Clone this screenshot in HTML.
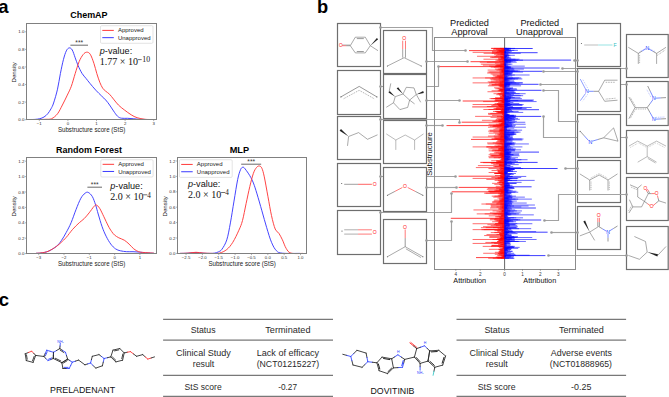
<!DOCTYPE html>
<html><head><meta charset="utf-8"><style>
html,body{margin:0;padding:0;background:#fff;}
body{width:669px;height:397px;overflow:hidden;font-family:"Liberation Sans", sans-serif;}
svg{display:block;}
</style></head><body>
<svg width="669" height="397" viewBox="0 0 669 397">
<rect width="669" height="397" fill="#fff"/>
<text x="-1.8" y="12.7" font-size="18.5" text-anchor="start" font-weight="bold" font-style="normal" fill="#000" font-family='"Liberation Sans", sans-serif' >a</text>
<text x="317" y="12.7" font-size="18.3" text-anchor="start" font-weight="bold" font-style="normal" fill="#000" font-family='"Liberation Sans", sans-serif' >b</text>
<text x="-1.2" y="305.8" font-size="18.5" text-anchor="start" font-weight="bold" font-style="normal" fill="#000" font-family='"Liberation Sans", sans-serif' >c</text>
<path d="M30,119.5 C30.83,119.48 33.37,119.53 35,119.4 C36.63,119.27 38.3,119.1 39.8,118.7 C41.3,118.3 42.68,117.82 44,117 C45.32,116.18 46.53,115.17 47.7,113.8 C48.87,112.43 50.02,110.6 51,108.8 C51.98,107 52.52,106.27 53.6,103 C54.68,99.73 56.37,94.12 57.5,89.2 C58.63,84.28 59.42,78.42 60.4,73.5 C61.38,68.58 62.42,63.47 63.4,59.7 C64.38,55.93 65.33,52.87 66.3,50.9 C67.27,48.93 68.22,48.07 69.2,47.9 C70.18,47.73 71.2,48.25 72.2,49.9 C73.2,51.55 74.22,55.18 75.2,57.8 C76.18,60.42 76.95,62.98 78.1,65.6 C79.25,68.22 80.78,71.37 82.1,73.5 C83.42,75.63 84.7,76.77 86,78.4 C87.3,80.03 88.27,81.33 89.9,83.3 C91.53,85.27 93.83,88.07 95.8,90.2 C97.77,92.33 100.05,94.47 101.7,96.1 C103.35,97.73 104.38,98.52 105.7,100 C107.02,101.48 108.3,103.18 109.6,105 C110.9,106.82 112.18,109.03 113.5,110.9 C114.82,112.77 116.18,114.98 117.5,116.2 C118.82,117.42 119.77,117.85 121.4,118.2 C123.03,118.55 125.33,118.22 127.3,118.3 C129.27,118.38 131.23,118.53 133.2,118.7 C135.17,118.87 136.97,119.17 139.1,119.3 C141.23,119.43 144.85,119.47 146,119.5" stroke="#3a3aff" stroke-width="0.95" fill="none"/>
<path d="M40,119.5 C40.95,119.47 43.77,119.43 45.7,119.3 C47.63,119.17 49.63,119.62 51.6,118.7 C53.57,117.78 55.7,116.08 57.5,113.8 C59.3,111.52 60.77,108.12 62.4,105 C64.03,101.88 65.82,98.22 67.3,95.1 C68.78,91.98 69.98,89.9 71.3,86.3 C72.62,82.7 73.9,77.6 75.2,73.5 C76.5,69.4 77.78,64.85 79.1,61.7 C80.42,58.55 81.85,56.18 83.1,54.6 C84.35,53.02 85.42,52.27 86.6,52.2 C87.78,52.13 88.98,52.35 90.2,54.2 C91.42,56.05 92.8,60.08 93.9,63.3 C95,66.52 95.82,70.33 96.8,73.5 C97.78,76.67 98.82,79.85 99.8,82.3 C100.78,84.75 101.72,86.72 102.7,88.2 C103.68,89.68 104.55,90.18 105.7,91.2 C106.85,92.22 108.3,92.98 109.6,94.3 C110.9,95.62 112.03,97.32 113.5,99.1 C114.97,100.88 116.6,103.2 118.4,105 C120.2,106.8 122.17,108.27 124.3,109.9 C126.43,111.53 129.07,113.5 131.2,114.8 C133.33,116.1 134.8,116.95 137.1,117.7 C139.4,118.45 142.35,119 145,119.3 C147.65,119.6 151.67,119.47 153,119.5" stroke="#ff3a3a" stroke-width="0.95" fill="none"/>
<rect x="26.5" y="23.5" width="130" height="96" stroke="#808080" stroke-width="1" fill="none" rx="0"/>
<text x="70.2" y="18.2" font-size="9.1" font-weight="bold" textLength="37.4" lengthAdjust="spacingAndGlyphs" font-family='"Liberation Sans", sans-serif'>ChemAP</text>
<line x1="24.9" y1="119.7" x2="26.5" y2="119.7" stroke="#808080" stroke-width="0.6" />
<text x="24.4" y="121.25" font-size="4.4" text-anchor="end" font-weight="normal" font-style="normal" fill="#2a2a2a" font-family='"Liberation Sans", sans-serif' >0.0</text>
<line x1="24.9" y1="102.12" x2="26.5" y2="102.12" stroke="#808080" stroke-width="0.6" />
<text x="24.4" y="103.67" font-size="4.4" text-anchor="end" font-weight="normal" font-style="normal" fill="#2a2a2a" font-family='"Liberation Sans", sans-serif' >0.2</text>
<line x1="24.9" y1="84.54" x2="26.5" y2="84.54" stroke="#808080" stroke-width="0.6" />
<text x="24.4" y="86.09" font-size="4.4" text-anchor="end" font-weight="normal" font-style="normal" fill="#2a2a2a" font-family='"Liberation Sans", sans-serif' >0.4</text>
<line x1="24.9" y1="66.96" x2="26.5" y2="66.96" stroke="#808080" stroke-width="0.6" />
<text x="24.4" y="68.51" font-size="4.4" text-anchor="end" font-weight="normal" font-style="normal" fill="#2a2a2a" font-family='"Liberation Sans", sans-serif' >0.6</text>
<line x1="24.9" y1="49.38" x2="26.5" y2="49.38" stroke="#808080" stroke-width="0.6" />
<text x="24.4" y="50.93" font-size="4.4" text-anchor="end" font-weight="normal" font-style="normal" fill="#2a2a2a" font-family='"Liberation Sans", sans-serif' >0.8</text>
<line x1="24.9" y1="31.8" x2="26.5" y2="31.8" stroke="#808080" stroke-width="0.6" />
<text x="24.4" y="33.35" font-size="4.4" text-anchor="end" font-weight="normal" font-style="normal" fill="#2a2a2a" font-family='"Liberation Sans", sans-serif' >1.0</text>
<line x1="39.3" y1="119.5" x2="39.3" y2="121.1" stroke="#808080" stroke-width="0.6" />
<text x="39.3" y="125.2" font-size="4.3" text-anchor="middle" font-weight="normal" font-style="normal" fill="#2a2a2a" font-family='"Liberation Sans", sans-serif' >&#8722;1</text>
<line x1="67.9" y1="119.5" x2="67.9" y2="121.1" stroke="#808080" stroke-width="0.6" />
<text x="67.9" y="125.2" font-size="4.3" text-anchor="middle" font-weight="normal" font-style="normal" fill="#2a2a2a" font-family='"Liberation Sans", sans-serif' >0</text>
<line x1="96.5" y1="119.5" x2="96.5" y2="121.1" stroke="#808080" stroke-width="0.6" />
<text x="96.5" y="125.2" font-size="4.3" text-anchor="middle" font-weight="normal" font-style="normal" fill="#2a2a2a" font-family='"Liberation Sans", sans-serif' >1</text>
<line x1="125.1" y1="119.5" x2="125.1" y2="121.1" stroke="#808080" stroke-width="0.6" />
<text x="125.1" y="125.2" font-size="4.3" text-anchor="middle" font-weight="normal" font-style="normal" fill="#2a2a2a" font-family='"Liberation Sans", sans-serif' >2</text>
<line x1="153.7" y1="119.5" x2="153.7" y2="121.1" stroke="#808080" stroke-width="0.6" />
<text x="153.7" y="125.2" font-size="4.3" text-anchor="middle" font-weight="normal" font-style="normal" fill="#2a2a2a" font-family='"Liberation Sans", sans-serif' >3</text>
<text x="57.9" y="131.7" font-size="6.5" fill="#222" textLength="67.4" lengthAdjust="spacingAndGlyphs" font-family='"Liberation Sans", sans-serif'>Substructure score (StS)</text>
<text x="0" y="0" font-size="6.15" text-anchor="middle" font-weight="normal" font-style="normal" fill="#222" font-family='"Liberation Sans", sans-serif' transform="translate(16.3,72.3) rotate(-90)">Density</text>
<rect x="100.5" y="25.7" width="52.5" height="17.6" stroke="#d8d8d8" stroke-width="0.7" fill="rgba(255,255,255,0.85)" rx="1.2"/>
<line x1="102.3" y1="30.4" x2="113.8" y2="30.4" stroke="#ff3a3a" stroke-width="1" />
<line x1="102.3" y1="37.67" x2="113.8" y2="37.67" stroke="#3a3aff" stroke-width="1" />
<text x="117.9" y="31.7" font-size="6" text-anchor="start" font-weight="normal" font-style="normal" fill="#222" font-family='"Liberation Sans", sans-serif' >Approved</text>
<text x="117.9" y="40.07" font-size="6" text-anchor="start" font-weight="normal" font-style="normal" fill="#222" font-family='"Liberation Sans", sans-serif' >Unapproved</text>
<text x="99.8" y="54" font-size="9.1" font-family='"Liberation Sans", sans-serif' fill="#111"><tspan font-style="italic">p</tspan>-value:</text>
<text x="99.8" y="64.6" font-size="10" font-family='"Liberation Serif", serif' fill="#111">1.77 &#215; 10</text>
<line x1="137.9" y1="59.6" x2="141.7" y2="59.6" stroke="#222" stroke-width="0.65" />
<text x="142.3" y="62" font-size="7.8" text-anchor="start" font-weight="normal" font-style="normal" fill="#111" font-family='"Liberation Serif", serif' >10</text>
<line x1="70.4" y1="45.2" x2="88" y2="45.2" stroke="#444" stroke-width="0.8" />
<text x="79.2" y="44.6" font-size="6.6" text-anchor="middle" font-weight="normal" font-style="normal" fill="#333" font-family='"Liberation Sans", sans-serif' >***</text>
<path d="M36,253.3 C36.83,253.25 38.97,253.33 41,253 C43.03,252.67 45.63,252.4 48.2,251.3 C50.77,250.2 54.22,248.17 56.4,246.4 C58.58,244.63 59.67,243.02 61.3,240.7 C62.93,238.38 64.57,235.5 66.2,232.5 C67.83,229.5 69.47,226.52 71.1,222.7 C72.73,218.88 74.37,213.68 76,209.6 C77.63,205.52 79.4,200.92 80.9,198.2 C82.4,195.48 83.78,194.27 85,193.3 C86.22,192.33 86.98,191.87 88.2,192.4 C89.42,192.93 91.07,194.42 92.3,196.5 C93.53,198.58 94.62,201.98 95.6,204.9 C96.58,207.82 97.12,210.37 98.2,214 C99.28,217.63 100.78,223 102.1,226.7 C103.42,230.4 104.65,233.3 106.1,236.2 C107.55,239.1 109.22,241.98 110.8,244.1 C112.38,246.22 114,247.78 115.6,248.9 C117.2,250.02 118.55,250.33 120.4,250.8 C122.25,251.27 124.6,251.55 126.7,251.7 C128.8,251.85 130.88,251.63 133,251.7 C135.12,251.77 137.28,251.92 139.4,252.1 C141.52,252.28 143.27,252.6 145.7,252.8 C148.13,253 152.62,253.22 154,253.3" stroke="#3a3aff" stroke-width="0.95" fill="none"/>
<path d="M36,253.3 C36.83,253.23 38.97,253.23 41,252.9 C43.03,252.57 45.63,252.38 48.2,251.3 C50.77,250.22 54.22,247.9 56.4,246.4 C58.58,244.9 59.67,243.8 61.3,242.3 C62.93,240.8 64.3,239.57 66.2,237.4 C68.1,235.23 70.52,231.75 72.7,229.3 C74.88,226.85 77.38,224.48 79.3,222.7 C81.22,220.92 82.57,220.23 84.2,218.6 C85.83,216.97 87.47,214.93 89.1,212.9 C90.73,210.87 92.78,207.72 94,206.4 C95.22,205.08 95.45,204.67 96.4,205 C97.35,205.33 98.47,206.47 99.7,208.4 C100.93,210.33 102.37,213.67 103.8,216.6 C105.23,219.53 107.02,223.55 108.3,226 C109.58,228.45 110.47,229.8 111.5,231.3 C112.53,232.8 113.28,233.92 114.5,235 C115.72,236.08 117.17,236.93 118.8,237.8 C120.43,238.67 122.58,239.15 124.3,240.2 C126.02,241.25 127.52,242.65 129.1,244.1 C130.68,245.55 132.22,247.63 133.8,248.9 C135.38,250.17 137.15,251.12 138.6,251.7 C140.05,252.28 140.78,252.22 142.5,252.4 C144.22,252.58 146.98,252.67 148.9,252.8 C150.82,252.93 153.15,253.13 154,253.2" stroke="#ff3a3a" stroke-width="0.95" fill="none"/>
<rect x="26.5" y="157.5" width="130" height="96" stroke="#808080" stroke-width="1" fill="none" rx="0"/>
<text x="56" y="153.2" font-size="9.1" font-weight="bold" textLength="65.9" lengthAdjust="spacingAndGlyphs" font-family='"Liberation Sans", sans-serif'>Random Forest</text>
<line x1="24.9" y1="253.6" x2="26.5" y2="253.6" stroke="#808080" stroke-width="0.6" />
<text x="24.4" y="255.15" font-size="4.4" text-anchor="end" font-weight="normal" font-style="normal" fill="#2a2a2a" font-family='"Liberation Sans", sans-serif' >0.0</text>
<line x1="24.9" y1="238.2" x2="26.5" y2="238.2" stroke="#808080" stroke-width="0.6" />
<text x="24.4" y="239.75" font-size="4.4" text-anchor="end" font-weight="normal" font-style="normal" fill="#2a2a2a" font-family='"Liberation Sans", sans-serif' >0.2</text>
<line x1="24.9" y1="222.8" x2="26.5" y2="222.8" stroke="#808080" stroke-width="0.6" />
<text x="24.4" y="224.35" font-size="4.4" text-anchor="end" font-weight="normal" font-style="normal" fill="#2a2a2a" font-family='"Liberation Sans", sans-serif' >0.4</text>
<line x1="24.9" y1="207.4" x2="26.5" y2="207.4" stroke="#808080" stroke-width="0.6" />
<text x="24.4" y="208.95" font-size="4.4" text-anchor="end" font-weight="normal" font-style="normal" fill="#2a2a2a" font-family='"Liberation Sans", sans-serif' >0.6</text>
<line x1="24.9" y1="192" x2="26.5" y2="192" stroke="#808080" stroke-width="0.6" />
<text x="24.4" y="193.55" font-size="4.4" text-anchor="end" font-weight="normal" font-style="normal" fill="#2a2a2a" font-family='"Liberation Sans", sans-serif' >0.8</text>
<line x1="24.9" y1="176.6" x2="26.5" y2="176.6" stroke="#808080" stroke-width="0.6" />
<text x="24.4" y="178.15" font-size="4.4" text-anchor="end" font-weight="normal" font-style="normal" fill="#2a2a2a" font-family='"Liberation Sans", sans-serif' >1.0</text>
<line x1="24.9" y1="161.2" x2="26.5" y2="161.2" stroke="#808080" stroke-width="0.6" />
<text x="24.4" y="162.75" font-size="4.4" text-anchor="end" font-weight="normal" font-style="normal" fill="#2a2a2a" font-family='"Liberation Sans", sans-serif' >1.2</text>
<line x1="38.7" y1="253.5" x2="38.7" y2="255.1" stroke="#808080" stroke-width="0.6" />
<text x="38.7" y="259.2" font-size="4.3" text-anchor="middle" font-weight="normal" font-style="normal" fill="#2a2a2a" font-family='"Liberation Sans", sans-serif' >&#8722;3</text>
<line x1="64" y1="253.5" x2="64" y2="255.1" stroke="#808080" stroke-width="0.6" />
<text x="64" y="259.2" font-size="4.3" text-anchor="middle" font-weight="normal" font-style="normal" fill="#2a2a2a" font-family='"Liberation Sans", sans-serif' >&#8722;2</text>
<line x1="89.3" y1="253.5" x2="89.3" y2="255.1" stroke="#808080" stroke-width="0.6" />
<text x="89.3" y="259.2" font-size="4.3" text-anchor="middle" font-weight="normal" font-style="normal" fill="#2a2a2a" font-family='"Liberation Sans", sans-serif' >&#8722;1</text>
<line x1="114.6" y1="253.5" x2="114.6" y2="255.1" stroke="#808080" stroke-width="0.6" />
<text x="114.6" y="259.2" font-size="4.3" text-anchor="middle" font-weight="normal" font-style="normal" fill="#2a2a2a" font-family='"Liberation Sans", sans-serif' >0</text>
<line x1="139.9" y1="253.5" x2="139.9" y2="255.1" stroke="#808080" stroke-width="0.6" />
<text x="139.9" y="259.2" font-size="4.3" text-anchor="middle" font-weight="normal" font-style="normal" fill="#2a2a2a" font-family='"Liberation Sans", sans-serif' >1</text>
<text x="57.9" y="265.6" font-size="6.5" fill="#222" textLength="67.4" lengthAdjust="spacingAndGlyphs" font-family='"Liberation Sans", sans-serif'>Substructure score (StS)</text>
<text x="0" y="0" font-size="6.15" text-anchor="middle" font-weight="normal" font-style="normal" fill="#222" font-family='"Liberation Sans", sans-serif' transform="translate(16.3,206.3) rotate(-90)">Density</text>
<rect x="100.8" y="159.7" width="52.3" height="17.3" stroke="#d8d8d8" stroke-width="0.7" fill="rgba(255,255,255,0.85)" rx="1.2"/>
<line x1="102.6" y1="164.32" x2="114.1" y2="164.32" stroke="#ff3a3a" stroke-width="1" />
<line x1="102.6" y1="171.46" x2="114.1" y2="171.46" stroke="#3a3aff" stroke-width="1" />
<text x="118.2" y="165.62" font-size="6" text-anchor="start" font-weight="normal" font-style="normal" fill="#222" font-family='"Liberation Sans", sans-serif' >Approved</text>
<text x="118.2" y="173.86" font-size="6" text-anchor="start" font-weight="normal" font-style="normal" fill="#222" font-family='"Liberation Sans", sans-serif' >Unapproved</text>
<text x="110.3" y="188.7" font-size="9.1" font-family='"Liberation Sans", sans-serif' fill="#111"><tspan font-style="italic">p</tspan>-value:</text>
<text x="110.3" y="199.8" font-size="10" font-family='"Liberation Serif", serif' fill="#111">2.0 &#215; 10</text>
<line x1="143.1" y1="194.8" x2="147.2" y2="194.8" stroke="#222" stroke-width="0.65" />
<text x="147.2" y="197.5" font-size="7.2" text-anchor="start" font-weight="normal" font-style="normal" fill="#111" font-family='"Liberation Serif", serif' >4</text>
<line x1="87.4" y1="187.2" x2="102" y2="187.2" stroke="#444" stroke-width="0.8" />
<text x="94.7" y="186.6" font-size="6.6" text-anchor="middle" font-weight="normal" font-style="normal" fill="#333" font-family='"Liberation Sans", sans-serif' >***</text>
<path d="M180,253.4 C181.33,253.37 185.33,253.35 188,253.2 C190.67,253.05 193.5,252.5 196,252.5 C198.5,252.5 200.67,253.05 203,253.2 C205.33,253.35 208.05,253.42 210,253.4 C211.95,253.38 213.28,253.37 214.7,253.1 C216.12,252.83 217.3,252.43 218.5,251.8 C219.7,251.17 220.52,251.3 221.9,249.3 C223.28,247.3 225.38,244.2 226.8,239.8 C228.22,235.4 229.2,229.35 230.4,222.9 C231.6,216.45 232.78,208.35 234,201.1 C235.22,193.85 236.6,184.67 237.7,179.4 C238.8,174.13 239.72,171.53 240.6,169.5 C241.48,167.47 242.23,167.28 243,167.2 C243.77,167.12 244.07,167.58 245.2,169 C246.33,170.42 248.43,173.37 249.8,175.7 C251.17,178.03 252.2,179.97 253.4,183 C254.6,186.03 255.58,189.27 257,193.9 C258.42,198.53 260.28,205.17 261.9,210.8 C263.52,216.43 265.1,222.45 266.7,227.7 C268.3,232.95 269.88,238.47 271.5,242.3 C273.12,246.13 274.58,248.88 276.4,250.7 C278.22,252.52 278.47,252.75 282.4,253.2 C286.33,253.65 297.07,253.37 300,253.4" stroke="#3a3aff" stroke-width="0.95" fill="none"/>
<path d="M180,253.4 C181.33,253.35 185.33,253.28 188,253.1 C190.67,252.92 193.5,252.32 196,252.3 C198.5,252.28 200.33,252.82 203,253 C205.67,253.18 209.25,253.38 212,253.4 C214.75,253.42 217.03,253.75 219.5,253.1 C221.97,252.45 224.58,251.3 226.8,249.5 C229.02,247.7 230.78,245.52 232.8,242.3 C234.82,239.08 237.28,233.83 238.9,230.2 C240.52,226.57 241.3,224.93 242.5,220.5 C243.7,216.07 244.88,209.25 246.1,203.6 C247.32,197.95 248.58,191.65 249.8,186.6 C251.02,181.55 252.27,176.5 253.4,173.3 C254.53,170.1 255.6,168.62 256.6,167.4 C257.6,166.18 258.52,165.85 259.4,166 C260.28,166.15 261.08,166.48 261.9,168.3 C262.72,170.12 263.3,172.23 264.3,176.9 C265.3,181.57 266.7,189.85 267.9,196.3 C269.1,202.75 270.28,210.15 271.5,215.6 C272.72,221.05 273.98,226.07 275.2,229 C276.42,231.93 277.6,231.4 278.8,233.2 C280,235 281.18,237.28 282.4,239.8 C283.62,242.32 284.68,246.08 286.1,248.3 C287.52,250.52 288.08,252.25 290.9,253.1 C293.72,253.95 300.98,253.35 303,253.4" stroke="#ff3a3a" stroke-width="0.95" fill="none"/>
<rect x="177.5" y="157.5" width="129" height="96" stroke="#808080" stroke-width="1" fill="none" rx="0"/>
<text x="229.7" y="152.8" font-size="9.1" font-weight="bold" textLength="19.4" lengthAdjust="spacingAndGlyphs" font-family='"Liberation Sans", sans-serif'>MLP</text>
<line x1="175.9" y1="253.4" x2="177.5" y2="253.4" stroke="#808080" stroke-width="0.6" />
<text x="175.4" y="254.95" font-size="4.4" text-anchor="end" font-weight="normal" font-style="normal" fill="#2a2a2a" font-family='"Liberation Sans", sans-serif' >0.0</text>
<line x1="175.9" y1="238" x2="177.5" y2="238" stroke="#808080" stroke-width="0.6" />
<text x="175.4" y="239.55" font-size="4.4" text-anchor="end" font-weight="normal" font-style="normal" fill="#2a2a2a" font-family='"Liberation Sans", sans-serif' >0.2</text>
<line x1="175.9" y1="222.6" x2="177.5" y2="222.6" stroke="#808080" stroke-width="0.6" />
<text x="175.4" y="224.15" font-size="4.4" text-anchor="end" font-weight="normal" font-style="normal" fill="#2a2a2a" font-family='"Liberation Sans", sans-serif' >0.4</text>
<line x1="175.9" y1="207.2" x2="177.5" y2="207.2" stroke="#808080" stroke-width="0.6" />
<text x="175.4" y="208.75" font-size="4.4" text-anchor="end" font-weight="normal" font-style="normal" fill="#2a2a2a" font-family='"Liberation Sans", sans-serif' >0.6</text>
<line x1="175.9" y1="191.8" x2="177.5" y2="191.8" stroke="#808080" stroke-width="0.6" />
<text x="175.4" y="193.35" font-size="4.4" text-anchor="end" font-weight="normal" font-style="normal" fill="#2a2a2a" font-family='"Liberation Sans", sans-serif' >0.8</text>
<line x1="175.9" y1="176.4" x2="177.5" y2="176.4" stroke="#808080" stroke-width="0.6" />
<text x="175.4" y="177.95" font-size="4.4" text-anchor="end" font-weight="normal" font-style="normal" fill="#2a2a2a" font-family='"Liberation Sans", sans-serif' >1.0</text>
<line x1="175.9" y1="161" x2="177.5" y2="161" stroke="#808080" stroke-width="0.6" />
<text x="175.4" y="162.55" font-size="4.4" text-anchor="end" font-weight="normal" font-style="normal" fill="#2a2a2a" font-family='"Liberation Sans", sans-serif' >1.2</text>
<line x1="186.05" y1="253.5" x2="186.05" y2="255.1" stroke="#808080" stroke-width="0.6" />
<text x="186.05" y="259.2" font-size="4.3" text-anchor="middle" font-weight="normal" font-style="normal" fill="#2a2a2a" font-family='"Liberation Sans", sans-serif' >&#8722;2.5</text>
<line x1="202.4" y1="253.5" x2="202.4" y2="255.1" stroke="#808080" stroke-width="0.6" />
<text x="202.4" y="259.2" font-size="4.3" text-anchor="middle" font-weight="normal" font-style="normal" fill="#2a2a2a" font-family='"Liberation Sans", sans-serif' >&#8722;2.0</text>
<line x1="218.75" y1="253.5" x2="218.75" y2="255.1" stroke="#808080" stroke-width="0.6" />
<text x="218.75" y="259.2" font-size="4.3" text-anchor="middle" font-weight="normal" font-style="normal" fill="#2a2a2a" font-family='"Liberation Sans", sans-serif' >&#8722;1.5</text>
<line x1="235.1" y1="253.5" x2="235.1" y2="255.1" stroke="#808080" stroke-width="0.6" />
<text x="235.1" y="259.2" font-size="4.3" text-anchor="middle" font-weight="normal" font-style="normal" fill="#2a2a2a" font-family='"Liberation Sans", sans-serif' >&#8722;1.0</text>
<line x1="251.45" y1="253.5" x2="251.45" y2="255.1" stroke="#808080" stroke-width="0.6" />
<text x="251.45" y="259.2" font-size="4.3" text-anchor="middle" font-weight="normal" font-style="normal" fill="#2a2a2a" font-family='"Liberation Sans", sans-serif' >&#8722;0.5</text>
<line x1="267.8" y1="253.5" x2="267.8" y2="255.1" stroke="#808080" stroke-width="0.6" />
<text x="267.8" y="259.2" font-size="4.3" text-anchor="middle" font-weight="normal" font-style="normal" fill="#2a2a2a" font-family='"Liberation Sans", sans-serif' >0.0</text>
<line x1="284.15" y1="253.5" x2="284.15" y2="255.1" stroke="#808080" stroke-width="0.6" />
<text x="284.15" y="259.2" font-size="4.3" text-anchor="middle" font-weight="normal" font-style="normal" fill="#2a2a2a" font-family='"Liberation Sans", sans-serif' >0.5</text>
<line x1="300.5" y1="253.5" x2="300.5" y2="255.1" stroke="#808080" stroke-width="0.6" />
<text x="300.5" y="259.2" font-size="4.3" text-anchor="middle" font-weight="normal" font-style="normal" fill="#2a2a2a" font-family='"Liberation Sans", sans-serif' >1.0</text>
<text x="208.4" y="265.5" font-size="6.5" fill="#222" textLength="67.4" lengthAdjust="spacingAndGlyphs" font-family='"Liberation Sans", sans-serif'>Substructure score (StS)</text>
<text x="0" y="0" font-size="6.15" text-anchor="middle" font-weight="normal" font-style="normal" fill="#222" font-family='"Liberation Sans", sans-serif' transform="translate(166.5,206.3) rotate(-90)">Density</text>
<rect x="179.4" y="159.7" width="52.8" height="17.7" stroke="#d8d8d8" stroke-width="0.7" fill="rgba(255,255,255,0.85)" rx="1.2"/>
<line x1="181.2" y1="164.43" x2="192.7" y2="164.43" stroke="#ff3a3a" stroke-width="1" />
<line x1="181.2" y1="171.74" x2="192.7" y2="171.74" stroke="#3a3aff" stroke-width="1" />
<text x="196.8" y="165.73" font-size="6" text-anchor="start" font-weight="normal" font-style="normal" fill="#222" font-family='"Liberation Sans", sans-serif' >Approved</text>
<text x="196.8" y="174.14" font-size="6" text-anchor="start" font-weight="normal" font-style="normal" fill="#222" font-family='"Liberation Sans", sans-serif' >Unapproved</text>
<text x="188" y="187.2" font-size="9.1" font-family='"Liberation Sans", sans-serif' fill="#111"><tspan font-style="italic">p</tspan>-value:</text>
<text x="188" y="197.5" font-size="10" font-family='"Liberation Serif", serif' fill="#111">2.0 &#215; 10</text>
<line x1="221.1" y1="192.5" x2="225.2" y2="192.5" stroke="#222" stroke-width="0.65" />
<text x="225.2" y="195.2" font-size="7.2" text-anchor="start" font-weight="normal" font-style="normal" fill="#111" font-family='"Liberation Serif", serif' >4</text>
<line x1="241.2" y1="164.2" x2="261.2" y2="164.2" stroke="#444" stroke-width="0.8" />
<text x="251.2" y="163.6" font-size="6.6" text-anchor="middle" font-weight="normal" font-style="normal" fill="#333" font-family='"Liberation Sans", sans-serif' >***</text>
<polyline points="380.5,27.5 432.5,27.5 432.5,50.5 465.5,50.5" stroke="#a2a2a2" stroke-width="1.15" fill="none" />
<polyline points="426.5,61.5 467.5,61.5" stroke="#a2a2a2" stroke-width="1.15" fill="none" />
<polyline points="380.5,86.5 438.5,86.5 438.5,66.5" stroke="#a2a2a2" stroke-width="1.15" fill="none" />
<polyline points="426.5,100.5 459.5,100.5" stroke="#a2a2a2" stroke-width="1.15" fill="none" />
<polyline points="380.5,119.5 459.5,119.5 459.5,122.5" stroke="#a2a2a2" stroke-width="1.15" fill="none" />
<polyline points="426.5,125.5 442.5,125.5" stroke="#a2a2a2" stroke-width="1.15" fill="none" />
<polyline points="380.5,176.5 455.5,176.5" stroke="#a2a2a2" stroke-width="1.15" fill="none" />
<polyline points="426.5,187.5 456.5,187.5" stroke="#a2a2a2" stroke-width="1.15" fill="none" />
<polyline points="380.5,212.5 451.5,212.5 451.5,193.5" stroke="#a2a2a2" stroke-width="1.15" fill="none" />
<polyline points="426.5,240.5 451.5,240.5 451.5,221.5" stroke="#a2a2a2" stroke-width="1.15" fill="none" />
<polyline points="574.5,60.5 577.5,60.5" stroke="#a2a2a2" stroke-width="1.15" fill="none" />
<polyline points="562.5,68.5 626.5,68.5" stroke="#a2a2a2" stroke-width="1.15" fill="none" />
<polyline points="543.5,71.5 577.5,71.5" stroke="#a2a2a2" stroke-width="1.15" fill="none" />
<polyline points="540.5,84.5 626.5,84.5" stroke="#a2a2a2" stroke-width="1.15" fill="none" />
<polyline points="543.5,90.5 558.5,90.5 558.5,121.5 577.5,121.5" stroke="#a2a2a2" stroke-width="1.15" fill="none" />
<polyline points="543.5,116.5 543.5,137.5 626.5,137.5" stroke="#a2a2a2" stroke-width="1.15" fill="none" />
<polyline points="565.5,168.5 577.5,168.5" stroke="#a2a2a2" stroke-width="1.15" fill="none" />
<polyline points="551.5,232.5 577.5,232.5" stroke="#a2a2a2" stroke-width="1.15" fill="none" />
<polyline points="548.5,255.5 626.5,255.5" stroke="#a2a2a2" stroke-width="1.15" fill="none" />
<line x1="504.6" y1="37.8" x2="504.6" y2="269.2" stroke="#555" stroke-width="0.9" />
<path d="M490.95 48.4H504.6M501.32 49.38H504.6M497.58 50.37H504.6M499.94 51.35H504.6M472.6 52.34H504.6M500.52 53.32H504.6M500.41 54.31H504.6M502.69 55.29H504.6M477.02 56.28H504.6M501.32 57.26H504.6M501.09 58.25H504.6M483.46 59.23H504.6M495.46 60.22H504.6M502.87 61.2H504.6M486.92 62.19H504.6M494.89 63.17H504.6M480.83 64.16H504.6M495.99 65.14H504.6M498.62 66.13H504.6M490.69 67.11H504.6M503.13 68.1H504.6M503.05 69.08H504.6M487.65 70.07H504.6M499.25 71.05H504.6M487.62 72.04H504.6M502.85 73.02H504.6M499.81 74.01H504.6M499.78 74.99H504.6M497.34 75.98H504.6M495.71 76.96H504.6M485.12 77.95H504.6M502.22 78.93H504.6M502.94 79.92H504.6M501.69 80.9H504.6M487.71 81.89H504.6M499.59 82.87H504.6M494.67 83.86H504.6M500.58 84.84H504.6M500.62 85.83H504.6M501.62 86.81H504.6M502.73 87.8H504.6M497.51 88.78H504.6M498.84 89.77H504.6M498.85 90.75H504.6M501.21 91.74H504.6M502.7 92.72H504.6M497.37 93.71H504.6M499.2 94.69H504.6M499.46 95.68H504.6M503.09 96.66H504.6M502.34 97.65H504.6M489.51 98.63H504.6M501.53 99.62H504.6M494.47 100.6H504.6M503.28 101.59H504.6M502.09 102.57H504.6M494.57 103.56H504.6M498.31 104.54H504.6M491.41 105.53H504.6M498.84 106.51H504.6M500.29 107.5H504.6M493.54 108.48H504.6M488.47 109.47H504.6M500.82 110.45H504.6M496.38 111.44H504.6M497.42 112.42H504.6M488.02 113.41H504.6M488.22 114.39H504.6M492.11 115.38H504.6M500.7 116.36H504.6M500.7 117.35H504.6M502.09 118.33H504.6M500.73 119.32H504.6M481.96 120.3H504.6M498.37 121.29H504.6M502.02 122.27H504.6M501.3 123.26H504.6M500.15 124.24H504.6M499.38 125.23H504.6M493.27 126.21H504.6M488.03 127.2H504.6M499.58 128.18H504.6M503.49 129.17H504.6M499.58 130.16H504.6M489.84 131.14H504.6M493.42 132.13H504.6M488.76 133.11H504.6M502.71 134.1H504.6M500.87 135.08H504.6M501.32 136.07H504.6M501.21 137.05H504.6M494.95 138.04H504.6M491.39 139.02H504.6M498.49 140.01H504.6M497.16 140.99H504.6M503.37 141.98H504.6M500.97 142.96H504.6M499.45 143.95H504.6M501.7 144.93H504.6M497.64 145.92H504.6M502.21 146.9H504.6M500.2 147.89H504.6M498.66 148.87H504.6M501.86 149.86H504.6M502.66 150.84H504.6M502.81 151.83H504.6M495.54 152.81H504.6M498.36 153.8H504.6M498.97 154.78H504.6M490.4 155.77H504.6M501.3 156.75H504.6M498.33 157.74H504.6M501.84 158.72H504.6M501.3 159.71H504.6M502.17 160.69H504.6M503.5 161.68H504.6M492.88 162.66H504.6M491.14 163.65H504.6M493.34 164.63H504.6M503.01 165.62H504.6M493.36 166.6H504.6M475.87 167.59H504.6M488.45 168.57H504.6M502.85 169.56H504.6M491.54 170.54H504.6M501.12 171.53H504.6M488.62 172.51H504.6M495.15 173.5H504.6M503.2 174.48H504.6M502.62 175.47H504.6M500.46 176.45H504.6M497.63 177.44H504.6M502.05 178.42H504.6M486.34 179.41H504.6M500.38 180.39H504.6M498.7 181.38H504.6M499.08 182.36H504.6M502.67 183.35H504.6M494.32 184.33H504.6M503.4 185.32H504.6M502.6 186.3H504.6M500.93 187.29H504.6M487.76 188.27H504.6M502.8 189.26H504.6M494.39 190.24H504.6M501.28 191.23H504.6M501.12 192.21H504.6M484.11 193.2H504.6M503.19 194.18H504.6M499.56 195.17H504.6M503.58 196.15H504.6M501.67 197.14H504.6M502.51 198.12H504.6M501.79 199.11H504.6M502.85 200.09H504.6M501.75 201.08H504.6M491.95 202.06H504.6M502.76 203.05H504.6M485.77 204.03H504.6M490.71 205.02H504.6M502.42 206H504.6M496.52 206.99H504.6M500.03 207.97H504.6M498.55 208.96H504.6M473.46 209.94H504.6M492.54 210.93H504.6M498.72 211.91H504.6M489.89 212.9H504.6M492.52 213.88H504.6M498.18 214.87H504.6M500.85 215.85H504.6M495.04 216.84H504.6M500.05 217.82H504.6M490.22 218.81H504.6M499.24 219.79H504.6M498.91 220.78H504.6M499.17 221.76H504.6M497.82 222.75H504.6M499.62 223.73H504.6M502.3 224.72H504.6M503.18 225.7H504.6M483.04 226.69H504.6M480.91 227.67H504.6M500.21 228.66H504.6M501.2 229.64H504.6M496.84 230.63H504.6M501.72 231.61H504.6M490.72 232.6H504.6M502.77 233.58H504.6M496.49 234.57H504.6M500.18 235.55H504.6M502.71 236.54H504.6M502.94 237.52H504.6M497.28 238.51H504.6M492.49 239.49H504.6M499 240.48H504.6M502.45 241.46H504.6M499.62 242.45H504.6M494.17 243.43H504.6M500.86 244.42H504.6M491.62 245.4H504.6M497.63 246.39H504.6M502.53 247.37H504.6M500.21 248.36H504.6M498.31 249.34H504.6M500.07 250.33H504.6M498.87 251.31H504.6M499.43 252.3H504.6M497.93 253.28H504.6M499.03 254.27H504.6M497.04 255.25H504.6M503.39 256.24H504.6M502.66 257.22H504.6M501.03 258.21H504.6" stroke="#ff0000" stroke-opacity="0.64" stroke-width="0.9" fill="none"/>
<path d="M491.35 48.4H504.6M503 49.38H504.6M502.52 50.37H504.6M491.96 51.35H504.6M492.05 52.34H504.6M483.62 53.32H504.6M503.12 54.31H504.6M495.87 55.29H504.6M494.35 56.28H504.6M489.98 57.26H504.6M501.39 58.25H504.6M499.43 59.23H504.6M502.51 60.22H504.6M499.08 61.2H504.6M479.79 62.19H504.6M503.15 63.17H504.6M502.99 64.16H504.6M482.87 65.14H504.6M495.19 66.13H504.6M500.2 67.11H504.6M503 68.1H504.6M494.86 69.08H504.6M501.74 70.07H504.6M501.86 71.05H504.6M502.12 72.04H504.6M499.58 73.02H504.6M503.11 74.01H504.6M503.44 74.99H504.6M496.89 75.98H504.6M494.74 76.96H504.6M499.23 77.95H504.6M489.85 78.93H504.6M490.93 79.92H504.6M495.62 80.9H504.6M502.05 81.89H504.6M472.6 82.87H504.6M499.95 83.86H504.6M491.84 84.84H504.6M498.73 85.83H504.6M499.56 86.81H504.6M494.08 87.8H504.6M502.9 88.78H504.6M499.98 89.77H504.6M491.6 90.75H504.6M501.22 91.74H504.6M503.02 92.72H504.6M493.5 93.71H504.6M496.31 94.69H504.6M502.28 95.68H504.6M502.96 96.66H504.6M499.79 97.65H504.6M493.41 98.63H504.6M502.82 99.62H504.6M500.32 100.6H504.6M501.59 101.59H504.6M502.8 102.57H504.6M497.02 103.56H504.6M472.6 104.54H504.6M498.68 105.53H504.6M499.44 106.51H504.6M496.34 107.5H504.6M502 108.48H504.6M502.62 109.47H504.6M502.54 110.45H504.6M500.75 111.44H504.6M500.8 112.42H504.6M490.31 113.41H504.6M502.5 114.39H504.6M503.11 115.38H504.6M496.92 116.36H504.6M502.96 117.35H504.6M496.76 118.33H504.6M502.81 119.32H504.6M495.36 120.3H504.6M493.55 121.29H504.6M503.23 122.27H504.6M498.63 123.26H504.6M495.75 124.24H504.6M493.31 125.23H504.6M492.29 126.21H504.6M501.82 127.2H504.6M495.33 128.18H504.6M499.47 129.17H504.6M499.12 130.16H504.6M488.12 131.14H504.6M500.54 132.13H504.6M499.83 133.11H504.6M495.07 134.1H504.6M497.59 135.08H504.6M493.79 136.07H504.6M500.32 137.05H504.6M493.93 138.04H504.6M491.87 139.02H504.6M503.03 140.01H504.6M499.87 140.99H504.6M499.68 141.98H504.6M492.68 142.96H504.6M487.58 143.95H504.6M502.28 144.93H504.6M502.51 145.92H504.6M486.52 146.9H504.6M501.04 147.89H504.6M498.42 148.87H504.6M498.23 149.86H504.6M494.71 150.84H504.6M500.32 151.83H504.6M493.84 152.81H504.6M500.31 153.8H504.6M500.16 154.78H504.6M501.83 155.77H504.6M500.43 156.75H504.6M488.87 157.74H504.6M501.36 158.72H504.6M499.78 159.71H504.6M491.26 160.69H504.6M497.24 161.68H504.6M483.1 162.66H504.6M502.79 163.65H504.6M498.92 164.63H504.6M477.92 165.62H504.6M503.03 166.6H504.6M503.38 167.59H504.6M501.16 168.57H504.6M500 169.56H504.6M497.78 170.54H504.6M497.7 171.53H504.6M498.3 172.51H504.6M494.04 173.5H504.6M500.27 174.48H504.6M499.77 175.47H504.6M501.37 176.45H504.6M501.39 177.44H504.6M502.5 178.42H504.6M502.09 179.41H504.6M497.92 180.39H504.6M500.18 181.38H504.6M498.32 182.36H504.6M501.86 183.35H504.6M498.99 184.33H504.6M501.24 185.32H504.6M502.16 186.3H504.6M502.07 187.29H504.6M502.07 188.27H504.6M499.32 189.26H504.6M500.88 190.24H504.6M488.1 191.23H504.6M501.76 192.21H504.6M500.76 193.2H504.6M503.15 194.18H504.6M503.47 195.17H504.6M498.61 196.15H504.6M502.91 197.14H504.6M497.48 198.12H504.6M501.12 199.11H504.6M499.82 200.09H504.6M499.14 201.08H504.6M492.49 202.06H504.6M500.62 203.05H504.6M481.42 204.03H504.6M502.24 205.02H504.6M503.16 206H504.6M502.06 206.99H504.6M502.56 207.97H504.6M498.44 208.96H504.6M500.29 209.94H504.6M501.77 210.93H504.6M496.52 211.91H504.6M503.19 212.9H504.6M494.4 213.88H504.6M501.98 214.87H504.6M501.54 215.85H504.6M498.62 216.84H504.6M503.54 217.82H504.6M501.16 218.81H504.6M494.05 219.79H504.6M503.54 220.78H504.6M498.32 221.76H504.6M498.24 222.75H504.6M472.6 223.73H504.6M487.37 224.72H504.6M490.74 225.7H504.6M501.88 226.69H504.6M503.17 227.67H504.6M497.6 228.66H504.6M483.77 229.64H504.6M502.13 230.63H504.6M500.94 231.61H504.6M494.35 232.6H504.6M502.97 233.58H504.6M499.78 234.57H504.6M501.52 235.55H504.6M489.38 236.54H504.6M489.31 237.52H504.6M499.61 238.51H504.6M496.99 239.49H504.6M498.07 240.48H504.6M497.01 241.46H504.6M503.5 242.45H504.6M502.98 243.43H504.6M501.82 244.42H504.6M502.91 245.4H504.6M491.04 246.39H504.6M498.83 247.37H504.6M503.09 248.36H504.6M499.22 249.34H504.6M499.52 250.33H504.6M498.6 251.31H504.6M501.95 252.3H504.6M483.19 253.28H504.6M494.77 254.27H504.6M500.66 255.25H504.6M502.58 256.24H504.6M500.98 257.22H504.6M497.41 258.21H504.6" stroke="#ff0000" stroke-opacity="0.64" stroke-width="0.9" fill="none"/>
<path d="M494.03 48.4H504.6M493.15 49.38H504.6M503.5 50.37H504.6M498.99 51.35H504.6M495.85 52.34H504.6M491.76 53.32H504.6M497.35 54.31H504.6M503.53 55.29H504.6M500.18 56.28H504.6M502.11 57.26H504.6M503.12 58.25H504.6M498.22 59.23H504.6M497.35 60.22H504.6M501.74 61.2H504.6M502.75 62.19H504.6M500.26 63.17H504.6M502.66 64.16H504.6M503.46 65.14H504.6M489.08 66.13H504.6M493.75 67.11H504.6M502.83 68.1H504.6M503.41 69.08H504.6M503.53 70.07H504.6M500.33 71.05H504.6M502.69 72.04H504.6M487.22 73.02H504.6M503.4 74.01H504.6M492.45 74.99H504.6M493.22 75.98H504.6M498.78 76.96H504.6M472.6 77.95H504.6M503.56 78.93H504.6M493.51 79.92H504.6M503.5 80.9H504.6M490.86 81.89H504.6M489.06 82.87H504.6M498.45 83.86H504.6M489.06 84.84H504.6M503.32 85.83H504.6M502.74 86.81H504.6M503.45 87.8H504.6M495.33 88.78H504.6M500.63 89.77H504.6M497.64 90.75H504.6M487.47 91.74H504.6M500.51 92.72H504.6M502.96 93.71H504.6M502.28 94.69H504.6M502.83 95.68H504.6M500.48 96.66H504.6M495.13 97.65H504.6M495.92 98.63H504.6M495.04 99.62H504.6M495.52 100.6H504.6M483.09 101.59H504.6M500.43 102.57H504.6M503.53 103.56H504.6M497.2 104.54H504.6M497.88 105.53H504.6M501.62 106.51H504.6M503.26 107.5H504.6M495.6 108.48H504.6M483.33 109.47H504.6M500.76 110.45H504.6M495.02 111.44H504.6M501.6 112.42H504.6M503.35 113.41H504.6M501.91 114.39H504.6M502.8 115.38H504.6M475.08 116.36H504.6M490.49 117.35H504.6M503.06 118.33H504.6M495.82 119.32H504.6M499.03 120.3H504.6M498.7 121.29H504.6M502.51 122.27H504.6M501.03 123.26H504.6M499.37 124.24H504.6M503.13 125.23H504.6M489.77 126.21H504.6M502.48 127.2H504.6M501.32 128.18H504.6M493.45 129.17H504.6M499.93 130.16H504.6M500.96 131.14H504.6M498.88 132.13H504.6M501.82 133.11H504.6M497.51 134.1H504.6M498.87 135.08H504.6M500.2 136.07H504.6M498.48 137.05H504.6M502.78 138.04H504.6M495.6 139.02H504.6M502.28 140.01H504.6M500.56 140.99H504.6M495.93 141.98H504.6M487.12 142.96H504.6M497.45 143.95H504.6M501.29 144.93H504.6M494.44 145.92H504.6M472.6 146.9H504.6M502.99 147.89H504.6M498.42 148.87H504.6M492.41 149.86H504.6M491.76 150.84H504.6M501.02 151.83H504.6M500.35 152.81H504.6M501.52 153.8H504.6M503.45 154.78H504.6M491.88 155.77H504.6M501.91 156.75H504.6M502.95 157.74H504.6M501.13 158.72H504.6M501.23 159.71H504.6M496.17 160.69H504.6M496.06 161.68H504.6M501.58 162.66H504.6M496.2 163.65H504.6M502.82 164.63H504.6M499.94 165.62H504.6M501.49 166.6H504.6M499.7 167.59H504.6M499.44 168.57H504.6M496.65 169.56H504.6M501.69 170.54H504.6M497.69 171.53H504.6M498.66 172.51H504.6M494.47 173.5H504.6M500.74 174.48H504.6M494.99 175.47H504.6M500.12 176.45H504.6M502.8 177.44H504.6M498.06 178.42H504.6M500.6 179.41H504.6M494.62 180.39H504.6M503.3 181.38H504.6M497 182.36H504.6M492.08 183.35H504.6M503.24 184.33H504.6M500.12 185.32H504.6M501.53 186.3H504.6M503.34 187.29H504.6M496.24 188.27H504.6M499.36 189.26H504.6M495.75 190.24H504.6M488.93 191.23H504.6M503.45 192.21H504.6M498.19 193.2H504.6M499.67 194.18H504.6M497.74 195.17H504.6M491.69 196.15H504.6M503.48 197.14H504.6M499.35 198.12H504.6M502.37 199.11H504.6M494.28 200.09H504.6M493.57 201.08H504.6M498.32 202.06H504.6M496.63 203.05H504.6M502.7 204.03H504.6M500.82 205.02H504.6M499.96 206H504.6M501.51 206.99H504.6M490.01 207.97H504.6M502.56 208.96H504.6M503.39 209.94H504.6M502.28 210.93H504.6M501.61 211.91H504.6M500.74 212.9H504.6M476.73 213.88H504.6M500.5 214.87H504.6M488.76 215.85H504.6M496.42 216.84H504.6M499.2 217.82H504.6M494.76 218.81H504.6M489.82 219.79H504.6M495.35 220.78H504.6M502.84 221.76H504.6M499.04 222.75H504.6M495.16 223.73H504.6M493.77 224.72H504.6M495.77 225.7H504.6M502.89 226.69H504.6M485.7 227.67H504.6M503.4 228.66H504.6M481.47 229.64H504.6M502.12 230.63H504.6M497.46 231.61H504.6M502.19 232.6H504.6M499.06 233.58H504.6M486.51 234.57H504.6M499.94 235.55H504.6M501.77 236.54H504.6M503.02 237.52H504.6M500.77 238.51H504.6M495.99 239.49H504.6M499.27 240.48H504.6M497.45 241.46H504.6M491.23 242.45H504.6M472.6 243.43H504.6M497.97 244.42H504.6M491.64 245.4H504.6M482.7 246.39H504.6M503.42 247.37H504.6M501.7 248.36H504.6M488.85 249.34H504.6M500.8 250.33H504.6M500.38 251.31H504.6M494.88 252.3H504.6M500.73 253.28H504.6M503.26 254.27H504.6M503.01 255.25H504.6M502.53 256.24H504.6M495.63 257.22H504.6M488.18 258.21H504.6" stroke="#ff0000" stroke-opacity="0.64" stroke-width="0.9" fill="none"/>
<path d="M499.81 48.4H504.6M496.15 49.38H504.6M498.87 50.37H504.6M497.16 51.35H504.6M501.21 52.34H504.6M503.6 53.32H504.6M494.1 54.31H504.6M500.44 57.26H504.6M503.01 58.25H504.6M499.83 64.16H504.6M497.23 65.14H504.6M495.18 66.13H504.6M501.73 68.1H504.6M497.81 69.08H504.6M501.34 70.07H504.6M501.78 71.05H504.6M500.88 72.04H504.6M490.61 74.01H504.6M501.89 74.99H504.6M502.51 77.95H504.6M498.57 78.93H504.6M499.17 80.9H504.6M500.07 81.89H504.6M502.13 84.84H504.6M487.89 85.83H504.6M500.02 86.81H504.6M502.24 87.8H504.6M500.24 89.77H504.6M498.28 93.71H504.6M503.14 94.69H504.6M502.41 95.68H504.6M500.1 96.66H504.6M491.18 98.63H504.6M502.5 99.62H504.6M503.14 100.6H504.6M501.36 101.59H504.6M498.21 102.57H504.6M493.15 104.54H504.6M486.89 106.51H504.6M501.83 109.47H504.6M492.96 111.44H504.6M496.32 112.42H504.6M503.2 113.41H504.6M503.08 117.35H504.6M501.32 118.33H504.6M498.29 119.32H504.6M503.05 120.3H504.6M492.2 121.29H504.6M501.59 123.26H504.6M488.59 124.24H504.6M497.53 125.23H504.6M497.25 127.2H504.6M501.24 129.17H504.6M489.43 130.16H504.6M498.61 131.14H504.6M500.15 133.11H504.6M499.03 134.1H504.6M487.94 136.07H504.6M472.6 137.05H504.6M499.89 138.04H504.6M500.62 140.01H504.6M502.92 140.99H504.6M502.93 141.98H504.6M495.42 143.95H504.6M495.87 146.9H504.6M490.62 147.89H504.6M501.67 148.87H504.6M502.31 149.86H504.6M488.67 150.84H504.6M502.71 151.83H504.6M489.74 153.8H504.6M488.62 154.78H504.6M501.85 155.77H504.6M503.15 156.75H504.6M493.7 157.74H504.6M503.19 158.72H504.6M498.43 161.68H504.6M500.16 162.66H504.6M499.03 164.63H504.6M498.87 165.62H504.6M494.72 166.6H504.6M503.4 168.57H504.6M499.25 173.5H504.6M502.06 174.48H504.6M491.42 177.44H504.6M472.6 178.42H504.6M503.28 179.41H504.6M502.05 182.36H504.6M502.8 183.35H504.6M500.44 184.33H504.6M495.74 186.3H504.6M503.44 187.29H504.6M486.79 189.26H504.6M498.97 190.24H504.6M502.79 191.23H504.6M500.91 192.21H504.6M485.62 193.2H504.6M499.84 194.18H504.6M501.62 195.17H504.6M494.47 196.15H504.6M493.28 197.14H504.6M499.06 199.11H504.6M499.47 200.09H504.6M500.46 201.08H504.6M496.27 204.03H504.6M490.76 206H504.6M490.91 206.99H504.6M501.62 207.97H504.6M503.55 208.96H504.6M501.44 210.93H504.6M502.93 213.88H504.6M501.16 215.85H504.6M496.76 220.78H504.6M492.15 221.76H504.6M503.39 222.75H504.6M501.24 223.73H504.6M501.78 225.7H504.6M499.94 226.69H504.6M493.08 227.67H504.6M498.43 229.64H504.6M494.44 230.63H504.6M503.13 232.6H504.6M500.19 233.58H504.6M484.13 235.55H504.6M500.16 236.54H504.6M500.75 237.52H504.6M499.66 238.51H504.6M472.6 239.49H504.6M485.38 242.45H504.6M499.64 244.42H504.6M500.24 246.39H504.6M502.86 247.37H504.6M502.85 248.36H504.6M499.39 252.3H504.6M497.86 253.28H504.6M498.25 255.25H504.6M501.48 256.24H504.6M497.55 257.22H504.6M492.75 258.21H504.6" stroke="#ff0000" stroke-opacity="0.64" stroke-width="0.9" fill="none"/>
<path d="M503.21 50.37H504.6M501.96 52.34H504.6M501.62 54.31H504.6M491.46 57.26H504.6M498.09 58.25H504.6M501.07 64.16H504.6M500.21 68.1H504.6M499.47 69.08H504.6M496.46 70.07H504.6M489.36 72.04H504.6M503.33 74.01H504.6M491.7 77.95H504.6M491.62 84.84H504.6M498.65 85.83H504.6M498.85 89.77H504.6M502.52 95.68H504.6M502.07 101.59H504.6M502.83 102.57H504.6M503.1 104.54H504.6M495.88 109.47H504.6M502.67 111.44H504.6M498.36 112.42H504.6M501.61 113.41H504.6M503.05 117.35H504.6M498.39 121.29H504.6M502.9 123.26H504.6M501 124.24H504.6M500.36 130.16H504.6M503.26 134.1H504.6M503 136.07H504.6M497.48 140.99H504.6M486.29 146.9H504.6M501.65 147.89H504.6M488.48 148.87H504.6M497.58 150.84H504.6M499.68 153.8H504.6M501.39 154.78H504.6M490.6 155.77H504.6M488.34 156.75H504.6M490.3 162.66H504.6M498.83 165.62H504.6M501.43 168.57H504.6M496.98 173.5H504.6M500.19 177.44H504.6M495.18 178.42H504.6M488.45 191.23H504.6M489.59 192.21H504.6M502.75 199.11H504.6M500.18 204.03H504.6M501.79 210.93H504.6M484.68 213.88H504.6M495.19 223.73H504.6M502.36 227.67H504.6M472.6 229.64H504.6M499.33 233.58H504.6M500.64 237.52H504.6M501.21 238.51H504.6M503.53 246.39H504.6M500.7 253.28H504.6M496.37 257.22H504.6" stroke="#ff0000" stroke-opacity="0.64" stroke-width="0.9" fill="none"/>
<path d="M504.6 48.4H506.82M504.6 49.38H510.85M504.6 50.37H517.88M504.6 51.35H505.63M504.6 52.34H505.78M504.6 53.32H520.78M504.6 54.31H507.76M504.6 55.29H514.85M504.6 56.28H506.32M504.6 57.26H510.59M504.6 58.25H505.69M504.6 59.23H506.77M504.6 60.22H506.87M504.6 61.2H512.67M504.6 62.19H510.35M504.6 63.17H505.96M504.6 64.16H512.42M504.6 65.14H506M504.6 66.13H506.4M504.6 67.11H510.53M504.6 68.1H508.45M504.6 69.08H523.9M504.6 70.07H509.84M504.6 71.05H508.87M504.6 72.04H512.8M504.6 73.02H508.4M504.6 74.01H507.51M504.6 74.99H514.84M504.6 75.98H512.29M504.6 76.96H506.74M504.6 77.95H519.33M504.6 78.93H517.86M504.6 79.92H506.36M504.6 80.9H508.97M504.6 81.89H506.7M504.6 82.87H516.23M504.6 83.86H510.38M504.6 84.84H509.91M504.6 85.83H506.35M504.6 86.81H509.92M504.6 87.8H505.67M504.6 88.78H516.68M504.6 89.77H510.08M504.6 90.75H507.14M504.6 91.74H514.34M504.6 92.72H515.95M504.6 93.71H519.66M504.6 94.69H505.74M504.6 95.68H520.77M504.6 96.66H508.86M504.6 97.65H520.39M504.6 98.63H521.88M504.6 99.62H506.43M504.6 100.6H507.68M504.6 101.59H510.49M504.6 102.57H513.39M504.6 103.56H507.28M504.6 104.54H512M504.6 105.53H522.45M504.6 106.51H512.91M504.6 107.5H513.6M504.6 108.48H526.59M504.6 109.47H511.28M504.6 110.45H511.99M504.6 111.44H513.29M504.6 112.42H506.82M504.6 113.41H505.76M504.6 114.39H509.44M504.6 115.38H516.16M504.6 116.36H507.59M504.6 117.35H510.47M504.6 118.33H513.98M504.6 119.32H519.79M504.6 120.3H505.74M504.6 121.29H506.15M504.6 122.27H525.28M504.6 123.26H506.11M504.6 124.24H508.51M504.6 125.23H508.67M504.6 126.21H511.53M504.6 127.2H506.66M504.6 128.18H514.28M504.6 129.17H506.78M504.6 130.16H511.32M504.6 131.14H509.42M504.6 132.13H514.23M504.6 133.11H508.72M504.6 134.1H514.13M504.6 135.08H512.46M504.6 136.07H506.96M504.6 137.05H512.88M504.6 138.04H512.81M504.6 139.02H506.56M504.6 140.01H507.92M504.6 140.99H512.17M504.6 141.98H506.59M504.6 142.96H511.64M504.6 143.95H512.58M504.6 144.93H506.25M504.6 145.92H510.21M504.6 146.9H522.41M504.6 147.89H509.09M504.6 148.87H510.94M504.6 149.86H515.27M504.6 150.84H515.05M504.6 151.83H510.47M504.6 152.81H510.92M504.6 153.8H508.65M504.6 154.78H518.96M504.6 155.77H509.35M504.6 156.75H508.27M504.6 157.74H518M504.6 158.72H515.4M504.6 159.71H509.6M504.6 160.69H506.86M504.6 161.68H511.4M504.6 162.66H512.51M504.6 163.65H506.76M504.6 164.63H518.7M504.6 165.62H505.64M504.6 166.6H506.75M504.6 167.59H508.42M504.6 168.57H512.29M504.6 169.56H514.2M504.6 170.54H510.87M504.6 171.53H509.66M504.6 172.51H507.18M504.6 173.5H506.69M504.6 174.48H506.4M504.6 175.47H505.62M504.6 176.45H526.26M504.6 177.44H521.23M504.6 178.42H512.48M504.6 179.41H508.08M504.6 180.39H509.04M504.6 181.38H508.21M504.6 182.36H508.2M504.6 183.35H516.19M504.6 184.33H509.49M504.6 185.32H512.47M504.6 186.3H506.45M504.6 187.29H509.42M504.6 188.27H506.36M504.6 189.26H509.59M504.6 190.24H508.03M504.6 191.23H507.44M504.6 192.21H507.65M504.6 193.2H511.33M504.6 194.18H505.83M504.6 195.17H512.21M504.6 196.15H511.28M504.6 197.14H512.49M504.6 198.12H507.62M504.6 199.11H531.85M504.6 200.09H511.24M504.6 201.08H511.44M504.6 202.06H511.55M504.6 203.05H511.72M504.6 204.03H511.96M504.6 205.02H534.92M504.6 206H507.54M504.6 206.99H506.72M504.6 207.97H506.5M504.6 208.96H512.03M504.6 209.94H515.14M504.6 210.93H510.51M504.6 211.91H513.72M504.6 212.9H507.39M504.6 213.88H516.23M504.6 214.87H509.69M504.6 215.85H507.38M504.6 216.84H508.08M504.6 217.82H506.18M504.6 218.81H510.61M504.6 219.79H506.02M504.6 220.78H505.93M504.6 221.76H513.51M504.6 222.75H509.09M504.6 223.73H508.58M504.6 224.72H515.85M504.6 225.7H509.11M504.6 226.69H517.74M504.6 227.67H505.82M504.6 228.66H511.17M504.6 229.64H505.69M504.6 230.63H512.46M504.6 231.61H506.87M504.6 232.6H508.81M504.6 233.58H507.54M504.6 234.57H506.89M504.6 235.55H511.89M504.6 236.54H506.22M504.6 237.52H510.77M504.6 238.51H511.72M504.6 239.49H536.6M504.6 240.48H509.8M504.6 241.46H519.32M504.6 242.45H506.27M504.6 243.43H506.37M504.6 244.42H510.76M504.6 245.4H506.5M504.6 246.39H514.85M504.6 247.37H519.7M504.6 248.36H507.91M504.6 249.34H511.3M504.6 250.33H507.96M504.6 251.31H512.12M504.6 252.3H508.31M504.6 253.28H506.97M504.6 254.27H506.99M504.6 255.25H506.12M504.6 256.24H505.94M504.6 257.22H510.63M504.6 258.21H514.42" stroke="#0000ff" stroke-opacity="0.64" stroke-width="0.9" fill="none"/>
<path d="M504.6 48.4H515.05M504.6 49.38H508.53M504.6 50.37H510.91M504.6 51.35H506.12M504.6 52.34H510.4M504.6 53.32H505.91M504.6 54.31H505.69M504.6 55.29H506.73M504.6 56.28H508.77M504.6 57.26H505.85M504.6 58.25H508.27M504.6 59.23H506.57M504.6 60.22H522.99M504.6 61.2H507.32M504.6 62.19H516.7M504.6 63.17H506.72M504.6 64.16H510.69M504.6 65.14H507.76M504.6 66.13H524.78M504.6 67.11H511.29M504.6 68.1H513.3M504.6 69.08H506.29M504.6 70.07H513.73M504.6 71.05H515.11M504.6 72.04H522.98M504.6 73.02H509.86M504.6 74.01H508.14M504.6 74.99H529.59M504.6 75.98H506.89M504.6 76.96H507.44M504.6 77.95H506.13M504.6 78.93H514.84M504.6 79.92H507.21M504.6 80.9H510.24M504.6 81.89H507.97M504.6 82.87H512.38M504.6 83.86H506.64M504.6 84.84H510.54M504.6 85.83H506.17M504.6 86.81H506.27M504.6 87.8H507.54M504.6 88.78H511.27M504.6 89.77H517.16M504.6 90.75H513.43M504.6 91.74H506.85M504.6 92.72H508.78M504.6 93.71H525.63M504.6 94.69H513.93M504.6 95.68H506.18M504.6 96.66H510.93M504.6 97.65H510.99M504.6 98.63H510.49M504.6 99.62H507.92M504.6 100.6H506.22M504.6 101.59H510.02M504.6 102.57H507.32M504.6 103.56H519.29M504.6 104.54H523.63M504.6 105.53H508.77M504.6 106.51H507.64M504.6 107.5H505.9M504.6 108.48H507.22M504.6 109.47H509.13M504.6 110.45H509.13M504.6 111.44H507.18M504.6 112.42H507.49M504.6 113.41H505.82M504.6 114.39H508.14M504.6 115.38H514.1M504.6 116.36H513.85M504.6 117.35H515.4M504.6 118.33H507.91M504.6 119.32H508.94M504.6 120.3H512.15M504.6 121.29H509.11M504.6 122.27H511.71M504.6 123.26H511.43M504.6 124.24H507.99M504.6 125.23H515.75M504.6 126.21H509.9M504.6 127.2H506.93M504.6 128.18H506.75M504.6 129.17H507.02M504.6 130.16H522.11M504.6 131.14H507.05M504.6 132.13H514.59M504.6 133.11H514.17M504.6 134.1H505.61M504.6 135.08H506.1M504.6 136.07H510.15M504.6 137.05H508.19M504.6 138.04H509.34M504.6 139.02H511.33M504.6 140.01H522.43M504.6 140.99H512.75M504.6 141.98H506.37M504.6 142.96H514.05M504.6 143.95H528.89M504.6 144.93H508.35M504.6 145.92H508.12M504.6 146.9H511.32M504.6 147.89H513.19M504.6 148.87H506.36M504.6 149.86H509.11M504.6 150.84H505.7M504.6 151.83H507.94M504.6 152.81H509.28M504.6 153.8H508.9M504.6 154.78H513.24M504.6 155.77H506.25M504.6 156.75H510.18M504.6 157.74H510.57M504.6 158.72H508.54M504.6 159.71H521.36M504.6 160.69H516.15M504.6 161.68H506.83M504.6 162.66H521.71M504.6 163.65H507.16M504.6 164.63H506.76M504.6 165.62H510.72M504.6 166.6H513.28M504.6 167.59H520.96M504.6 168.57H509.86M504.6 169.56H514.56M504.6 170.54H512.87M504.6 171.53H513.05M504.6 172.51H506.52M504.6 173.5H507.31M504.6 174.48H513.77M504.6 175.47H508.66M504.6 176.45H512.21M504.6 177.44H508.22M504.6 178.42H517.19M504.6 179.41H506.78M504.6 180.39H534.65M504.6 181.38H507.46M504.6 182.36H506.57M504.6 183.35H509.07M504.6 184.33H506.81M504.6 185.32H509.82M504.6 186.3H509.82M504.6 187.29H505.67M504.6 188.27H514.24M504.6 189.26H507.5M504.6 190.24H508.78M504.6 191.23H508.35M504.6 192.21H515.39M504.6 193.2H511.22M504.6 194.18H506.45M504.6 195.17H507.15M504.6 196.15H510.37M504.6 197.14H512.33M504.6 198.12H508.71M504.6 199.11H515.48M504.6 200.09H508.69M504.6 201.08H508.26M504.6 202.06H506.38M504.6 203.05H526.73M504.6 204.03H508.44M504.6 205.02H506.34M504.6 206H508.48M504.6 206.99H506.26M504.6 207.97H511.29M504.6 208.96H505.62M504.6 209.94H508.52M504.6 210.93H522M504.6 211.91H507.75M504.6 212.9H507.23M504.6 213.88H508.65M504.6 214.87H507.48M504.6 215.85H506.99M504.6 216.84H506.58M504.6 217.82H523.05M504.6 218.81H507.85M504.6 219.79H508.47M504.6 220.78H511.16M504.6 221.76H508.92M504.6 222.75H507.54M504.6 223.73H517.32M504.6 224.72H514.87M504.6 225.7H510.06M504.6 226.69H506.03M504.6 227.67H508.06M504.6 228.66H519.06M504.6 229.64H508.01M504.6 230.63H509.24M504.6 231.61H536.14M504.6 232.6H515.55M504.6 233.58H517.55M504.6 234.57H508.7M504.6 235.55H505.67M504.6 236.54H517.9M504.6 237.52H512.53M504.6 238.51H505.96M504.6 239.49H511.79M504.6 240.48H506.18M504.6 241.46H511.91M504.6 242.45H508.69M504.6 243.43H510.47M504.6 244.42H506.68M504.6 245.4H510.42M504.6 246.39H506.27M504.6 247.37H510.14M504.6 248.36H509.49M504.6 249.34H507.4M504.6 250.33H506.32M504.6 251.31H512.84M504.6 252.3H510.82M504.6 253.28H513.94M504.6 254.27H510.76M504.6 255.25H529.62M504.6 256.24H513.96M504.6 257.22H505.63M504.6 258.21H508.97" stroke="#0000ff" stroke-opacity="0.64" stroke-width="0.9" fill="none"/>
<path d="M504.6 48.4H509.35M504.6 49.38H509.1M504.6 50.37H514.33M504.6 51.35H511.77M504.6 52.34H506.26M504.6 53.32H508.33M504.6 54.31H508.66M504.6 55.29H510.35M504.6 56.28H506.99M504.6 57.26H506.52M504.6 58.25H511.24M504.6 59.23H519.47M504.6 60.22H518M504.6 61.2H515.67M504.6 62.19H511.13M504.6 63.17H508.27M504.6 64.16H506.48M504.6 65.14H506.45M504.6 66.13H508.02M504.6 67.11H508.39M504.6 68.1H510.64M504.6 69.08H514.38M504.6 70.07H508.03M504.6 71.05H519.84M504.6 72.04H507.48M504.6 73.02H512.07M504.6 74.01H511.68M504.6 74.99H506.31M504.6 75.98H509.34M504.6 76.96H508.06M504.6 77.95H521.24M504.6 78.93H522.34M504.6 79.92H508.47M504.6 80.9H514.08M504.6 81.89H514.59M504.6 82.87H522.5M504.6 83.86H509.79M504.6 84.84H506.9M504.6 85.83H506.66M504.6 86.81H508.75M504.6 87.8H513.06M504.6 88.78H512.94M504.6 89.77H510.03M504.6 90.75H515.25M504.6 91.74H506.19M504.6 92.72H514.65M504.6 93.71H506.31M504.6 94.69H511.11M504.6 95.68H505.97M504.6 96.66H505.68M504.6 97.65H506.18M504.6 98.63H506.83M504.6 99.62H510.09M504.6 100.6H518.3M504.6 101.59H508.46M504.6 102.57H508.58M504.6 103.56H510.23M504.6 104.54H508.43M504.6 105.53H509.94M504.6 106.51H505.68M504.6 107.5H531.64M504.6 108.48H509.9M504.6 109.47H506.92M504.6 110.45H507.36M504.6 111.44H506.3M504.6 112.42H507.19M504.6 113.41H507.06M504.6 114.39H507.99M504.6 115.38H509.01M504.6 116.36H515.75M504.6 117.35H509.21M504.6 118.33H517.98M504.6 119.32H515.02M504.6 120.3H510.7M504.6 121.29H516.79M504.6 122.27H515.06M504.6 123.26H506.5M504.6 124.24H525.61M504.6 125.23H511.97M504.6 126.21H512.78M504.6 127.2H508.81M504.6 128.18H505.97M504.6 129.17H507.16M504.6 130.16H510.24M504.6 131.14H505.9M504.6 132.13H505.95M504.6 133.11H506.51M504.6 134.1H515.59M504.6 135.08H513.61M504.6 136.07H509.93M504.6 137.05H512.34M504.6 138.04H507.61M504.6 139.02H521.68M504.6 140.01H510.4M504.6 140.99H506.75M504.6 141.98H508.63M504.6 142.96H515.58M504.6 143.95H514.64M504.6 144.93H509.73M504.6 145.92H509.63M504.6 146.9H506.88M504.6 147.89H507.18M504.6 148.87H515.7M504.6 149.86H508.6M504.6 150.84H506.89M504.6 151.83H511.55M504.6 152.81H508.67M504.6 153.8H510.44M504.6 154.78H510.88M504.6 155.77H519.56M504.6 156.75H510.41M504.6 157.74H509.1M504.6 158.72H508.16M504.6 159.71H527.55M504.6 160.69H508.14M504.6 161.68H517.91M504.6 162.66H509.02M504.6 163.65H511.94M504.6 164.63H507.09M504.6 165.62H510.07M504.6 166.6H505.77M504.6 167.59H509.62M504.6 168.57H523.16M504.6 169.56H514.68M504.6 170.54H510.53M504.6 171.53H516.87M504.6 172.51H507.76M504.6 173.5H506.61M504.6 174.48H510.93M504.6 175.47H509.92M504.6 176.45H512.92M504.6 177.44H507.98M504.6 178.42H510.78M504.6 179.41H510.23M504.6 180.39H512.19M504.6 181.38H505.71M504.6 182.36H521.6M504.6 183.35H516.78M504.6 184.33H509.78M504.6 185.32H510.21M504.6 186.3H508.15M504.6 187.29H513.92M504.6 188.27H508.32M504.6 189.26H506.6M504.6 190.24H506.55M504.6 191.23H516.48M504.6 192.21H518.25M504.6 193.2H508.67M504.6 194.18H509.7M504.6 195.17H505.61M504.6 196.15H515.91M504.6 197.14H524.87M504.6 198.12H508.25M504.6 199.11H518.18M504.6 200.09H509.41M504.6 201.08H512.26M504.6 202.06H513.42M504.6 203.05H509.3M504.6 204.03H512.2M504.6 205.02H507.92M504.6 206H511.18M504.6 206.99H521.33M504.6 207.97H507.46M504.6 208.96H507.98M504.6 209.94H505.94M504.6 210.93H505.88M504.6 211.91H509.79M504.6 212.9H520.59M504.6 213.88H518.9M504.6 214.87H533.82M504.6 215.85H506.75M504.6 216.84H508.31M504.6 217.82H516.22M504.6 218.81H509.32M504.6 219.79H520.31M504.6 220.78H508.05M504.6 221.76H509.25M504.6 222.75H505.87M504.6 223.73H506.39M504.6 224.72H509.76M504.6 225.7H517.24M504.6 226.69H509.58M504.6 227.67H517.21M504.6 228.66H506.03M504.6 229.64H507.8M504.6 230.63H506.4M504.6 231.61H512.42M504.6 232.6H508.65M504.6 233.58H507.56M504.6 234.57H507.04M504.6 235.55H511.07M504.6 236.54H514.1M504.6 237.52H532.25M504.6 238.51H507.06M504.6 239.49H514.66M504.6 240.48H514.78M504.6 241.46H525.92M504.6 242.45H510.38M504.6 243.43H506.41M504.6 244.42H506.24M504.6 245.4H506.71M504.6 246.39H513.35M504.6 247.37H513.94M504.6 248.36H511.76M504.6 249.34H510.91M504.6 250.33H507.76M504.6 251.31H505.79M504.6 252.3H506.24M504.6 253.28H505.93M504.6 254.27H515.16M504.6 255.25H515.93M504.6 256.24H505.89M504.6 257.22H513.34M504.6 258.21H513.68" stroke="#0000ff" stroke-opacity="0.64" stroke-width="0.9" fill="none"/>
<path d="M504.6 48.4H511.12M504.6 51.35H508.63M504.6 52.34H506.26M504.6 55.29H509.04M504.6 56.28H507.42M504.6 57.26H508.98M504.6 59.23H515.48M504.6 60.22H510.97M504.6 61.2H510.86M504.6 62.19H507.51M504.6 64.16H505.81M504.6 65.14H506.04M504.6 66.13H506.11M504.6 67.11H510.67M504.6 68.1H508.97M504.6 71.05H517.91M504.6 73.02H512.91M504.6 74.01H510.42M504.6 77.95H513.03M504.6 78.93H509.21M504.6 79.92H506.13M504.6 82.87H509.53M504.6 83.86H519.39M504.6 84.84H510.05M504.6 85.83H521.09M504.6 86.81H505.77M504.6 92.72H506.38M504.6 93.71H509.69M504.6 95.68H523.15M504.6 96.66H512.6M504.6 97.65H514.72M504.6 98.63H510.7M504.6 99.62H508.28M504.6 100.6H532.66M504.6 101.59H536.6M504.6 103.56H509.71M504.6 104.54H521.78M504.6 105.53H510.88M504.6 106.51H507.23M504.6 107.5H522.37M504.6 108.48H521.66M504.6 111.44H518.55M504.6 112.42H523.2M504.6 113.41H507.49M504.6 114.39H509.56M504.6 115.38H513.58M504.6 116.36H506.78M504.6 117.35H515.66M504.6 118.33H507.03M504.6 119.32H507.71M504.6 120.3H514.82M504.6 122.27H505.98M504.6 123.26H513.54M504.6 124.24H512.07M504.6 126.21H515M504.6 127.2H507.6M504.6 130.16H516.74M504.6 132.13H520.57M504.6 134.1H516.46M504.6 135.08H510.15M504.6 136.07H506.59M504.6 137.05H506.25M504.6 138.04H506.3M504.6 139.02H513.63M504.6 143.95H511.86M504.6 144.93H514.61M504.6 145.92H506.49M504.6 146.9H506.1M504.6 148.87H507.57M504.6 149.86H514.45M504.6 150.84H509.26M504.6 152.81H511.27M504.6 153.8H519.27M504.6 154.78H513.68M504.6 156.75H506.64M504.6 158.72H510.71M504.6 159.71H509.31M504.6 161.68H505.9M504.6 162.66H506.08M504.6 163.65H514.67M504.6 164.63H506.42M504.6 167.59H506.75M504.6 168.57H506.71M504.6 169.56H507.16M504.6 171.53H505.78M504.6 172.51H505.85M504.6 173.5H512.41M504.6 178.42H518.21M504.6 179.41H506.64M504.6 180.39H517.12M504.6 181.38H506.77M504.6 183.35H508.39M504.6 185.32H507.78M504.6 186.3H506.23M504.6 187.29H513.48M504.6 188.27H514.47M504.6 189.26H508.59M504.6 190.24H510.67M504.6 191.23H507.67M504.6 192.21H511.56M504.6 194.18H507.74M504.6 195.17H510.15M504.6 198.12H512M504.6 201.08H506.78M504.6 202.06H507.42M504.6 204.03H506.47M504.6 205.02H505.76M504.6 206H514.01M504.6 206.99H507.28M504.6 207.97H507.1M504.6 208.96H506.47M504.6 209.94H510.24M504.6 210.93H516.89M504.6 212.9H509.56M504.6 213.88H511.27M504.6 214.87H511.32M504.6 217.82H513.91M504.6 219.79H517.97M504.6 220.78H508.96M504.6 221.76H516.11M504.6 222.75H505.93M504.6 223.73H532.35M504.6 225.7H506.87M504.6 226.69H505.93M504.6 227.67H516.01M504.6 228.66H531.19M504.6 229.64H511.36M504.6 231.61H513.33M504.6 232.6H509.14M504.6 234.57H511.52M504.6 235.55H505.69M504.6 236.54H506.24M504.6 237.52H515.41M504.6 238.51H505.72M504.6 241.46H509.32M504.6 243.43H506.14M504.6 247.37H514.27M504.6 248.36H518.23M504.6 249.34H507.04M504.6 250.33H509.99M504.6 253.28H506.78M504.6 256.24H511.28" stroke="#0000ff" stroke-opacity="0.64" stroke-width="0.9" fill="none"/>
<path d="M504.6 48.4H506.79M504.6 57.26H505.66M504.6 60.22H508.77M504.6 61.2H507.61M504.6 64.16H505.7M504.6 66.13H509.32M504.6 71.05H508.41M504.6 74.01H511.54M504.6 77.95H506.41M504.6 78.93H511.71M504.6 79.92H507.75M504.6 82.87H522.88M504.6 83.86H507.32M504.6 84.84H509.66M504.6 85.83H509.16M504.6 98.63H508.02M504.6 104.54H508.43M504.6 106.51H505.85M504.6 112.42H509.65M504.6 115.38H508.47M504.6 117.35H505.65M504.6 118.33H511.81M504.6 119.32H507.82M504.6 126.21H508.78M504.6 127.2H525.89M504.6 132.13H518.52M504.6 134.1H515.61M504.6 137.05H508.51M504.6 139.02H523.47M504.6 143.95H511.04M504.6 146.9H507.23M504.6 149.86H521.01M504.6 150.84H506.49M504.6 153.8H509.93M504.6 154.78H507.71M504.6 156.75H511.68M504.6 161.68H506.25M504.6 167.59H510.31M504.6 168.57H514.37M504.6 169.56H509.5M504.6 172.51H507.79M504.6 173.5H515.91M504.6 178.42H509.2M504.6 185.32H509.09M504.6 187.29H511.86M504.6 188.27H507.34M504.6 190.24H512.61M504.6 192.21H508.41M504.6 198.12H509.6M504.6 201.08H516.84M504.6 204.03H506.59M504.6 205.02H510.14M504.6 206H528.58M504.6 207.97H509.42M504.6 212.9H507.73M504.6 220.78H512.87M504.6 221.76H509.64M504.6 222.75H507.88M504.6 223.73H509.52M504.6 228.66H506.94M504.6 237.52H517.57M504.6 238.51H514.65M504.6 241.46H518.1M504.6 243.43H509.76" stroke="#0000ff" stroke-opacity="0.64" stroke-width="0.9" fill="none"/>
<path d="M469 50.6H504.6M470.5 61.7H504.6M438.7 66.6H504.6M462.7 101H504.6M472.2 106.9H504.6M461.6 122.2H504.6M446.5 125.6H504.6M471 139.4H504.6M480.3 162.4H504.6M458.6 176.2H504.6M458.6 187.4H504.6M451.7 191.8H504.6M450.8 218.3H504.6M476 257.6H504.6" stroke="#ff0000" stroke-opacity="0.8" stroke-width="0.95" fill="none"/>
<path d="M504.6 48.5H532.7M504.6 52.7H537.6M504.6 60.1H571.1M504.6 68H559.5M504.6 71.3H542.4M504.6 84.3H538.6M504.6 90.3H541.5M504.6 100.1H533.8M504.6 109.7H539M504.6 116.4H541.2M504.6 152.1H539M504.6 162.4H537.6M504.6 168.5H557.6M504.6 186.8H531.6M504.6 208H535.9M504.6 220H541.2M504.6 232.2H547.6M504.6 255.6H545.4" stroke="#0000ff" stroke-opacity="0.8" stroke-width="0.95" fill="none"/>
<rect x="434.5" y="37.5" width="141" height="232" stroke="#8c8c8c" stroke-width="1" fill="none" rx="0"/>
<line x1="455.8" y1="269.2" x2="455.8" y2="270.8" stroke="#6e6e6e" stroke-width="0.6" />
<text x="455.8" y="275.8" font-size="4.6" text-anchor="middle" font-weight="normal" font-style="normal" fill="#333" font-family='"Liberation Sans", sans-serif' >4</text>
<line x1="480.2" y1="269.2" x2="480.2" y2="270.8" stroke="#6e6e6e" stroke-width="0.6" />
<text x="480.2" y="275.8" font-size="4.6" text-anchor="middle" font-weight="normal" font-style="normal" fill="#333" font-family='"Liberation Sans", sans-serif' >2</text>
<line x1="504.6" y1="269.2" x2="504.6" y2="270.8" stroke="#6e6e6e" stroke-width="0.6" />
<text x="504.6" y="275.8" font-size="4.6" text-anchor="middle" font-weight="normal" font-style="normal" fill="#333" font-family='"Liberation Sans", sans-serif' >0</text>
<line x1="522.5" y1="269.2" x2="522.5" y2="270.8" stroke="#6e6e6e" stroke-width="0.6" />
<text x="522.5" y="275.8" font-size="4.6" text-anchor="middle" font-weight="normal" font-style="normal" fill="#333" font-family='"Liberation Sans", sans-serif' >1</text>
<line x1="540.4" y1="269.2" x2="540.4" y2="270.8" stroke="#6e6e6e" stroke-width="0.6" />
<text x="540.4" y="275.8" font-size="4.6" text-anchor="middle" font-weight="normal" font-style="normal" fill="#333" font-family='"Liberation Sans", sans-serif' >2</text>
<line x1="558.3" y1="269.2" x2="558.3" y2="270.8" stroke="#6e6e6e" stroke-width="0.6" />
<text x="558.3" y="275.8" font-size="4.6" text-anchor="middle" font-weight="normal" font-style="normal" fill="#333" font-family='"Liberation Sans", sans-serif' >3</text>
<text x="469.7" y="283" font-size="7.3" text-anchor="middle" font-weight="normal" font-style="normal" fill="#111" font-family='"Liberation Sans", sans-serif' >Attribution</text>
<text x="539.8" y="283" font-size="7.3" text-anchor="middle" font-weight="normal" font-style="normal" fill="#111" font-family='"Liberation Sans", sans-serif' >Attribution</text>
<text x="469.5" y="25.5" font-size="9.2" text-anchor="middle" font-weight="normal" font-style="normal" fill="#111" font-family='"Liberation Sans", sans-serif' >Predicted</text>
<text x="469.5" y="34.7" font-size="9.2" text-anchor="middle" font-weight="normal" font-style="normal" fill="#111" font-family='"Liberation Sans", sans-serif' >Approval</text>
<text x="539.8" y="25.5" font-size="9.2" text-anchor="middle" font-weight="normal" font-style="normal" fill="#111" font-family='"Liberation Sans", sans-serif' >Predicted</text>
<text x="539.6" y="34.7" font-size="9.2" text-anchor="middle" font-weight="normal" font-style="normal" fill="#111" font-family='"Liberation Sans", sans-serif' >Unapproval</text>
<text x="0" y="0" font-size="7.7" text-anchor="middle" font-weight="normal" font-style="normal" fill="#111" font-family='"Liberation Sans", sans-serif' transform="translate(432.4,154.0) rotate(-90)">Substructure</text>
<rect x="337.5" y="23.5" width="43" height="43" stroke="#6e6e6e" stroke-width="1.2" fill="#fff" rx="0"/>
<g transform="translate(337.5,23.3)"><polyline points="12.8,22.4 17.8,13.9 27.8,13.9 32.8,22.4 27.8,29.6 17.8,29.6 12.8,22.4" fill="none" stroke="#555555" stroke-width="0.5"/><line x1="19.3" y1="15.3" x2="26.3" y2="15.3" stroke="#555555" stroke-width="0.6"/><line x1="26.3" y1="28.2" x2="19.3" y2="28.2" stroke="#555555" stroke-width="0.6"/><line x1="4.6" y1="22.4" x2="8.7" y2="22.4" stroke="#ff2020" stroke-width="0.6"/><line x1="8.7" y1="22.4" x2="12.8" y2="22.4" stroke="#555555" stroke-width="0.6"/><line x1="4.6" y1="21.6" x2="12.8" y2="21.6" stroke="#777" stroke-width="0.45"/><text x="3.2" y="24.06" font-size="4.6" fill="#ff2020" text-anchor="middle" font-family='"Liberation Sans", sans-serif'>O</text><polygon points="32.8,22.4 40.63,16.05 39.37,14.75" fill="#222"/><line x1="32.8" y1="22.4" x2="40.5" y2="27.4" stroke="#555555" stroke-width="0.5"/></g>
<rect x="337.5" y="70.5" width="43" height="44" stroke="#6e6e6e" stroke-width="1.2" fill="#fff" rx="0"/>
<g transform="translate(337.5,70.4)"><polyline points="3.4,26.5 21.7,16 39.4,26.5" fill="none" stroke="#555555" stroke-width="0.6"/><polyline points="6.2,28.3 21.7,19.9 36.6,28.3" fill="none" stroke="#555" stroke-width="0.5" stroke-dasharray="1,1"/><circle cx="3.4" cy="26.5" r="0.55" fill="#555"/><circle cx="39.4" cy="26.5" r="0.55" fill="#555"/></g>
<rect x="337.5" y="116.5" width="43" height="43" stroke="#6e6e6e" stroke-width="1.2" fill="#fff" rx="0"/>
<g transform="translate(337.5,116.1)"><polygon points="11.1,20.4 3.48,12.94 2.12,14.66" fill="#222"/><line x1="11.1" y1="20.4" x2="10" y2="29.8" stroke="#555555" stroke-width="0.5"/><polyline points="11.1,20.4 21.1,16.5 30,23.2 40,18.7" fill="none" stroke="#555555" stroke-width="0.5"/></g>
<rect x="337.5" y="163.5" width="43" height="43" stroke="#6e6e6e" stroke-width="1.2" fill="#fff" rx="0"/>
<g transform="translate(337.5,163.2)"><circle cx="4.2" cy="20.3" r="0.55" fill="#555"/><line x1="6.7" y1="21.1" x2="20.55" y2="21.1" stroke="#777" stroke-width="0.7"/><line x1="20.55" y1="21.1" x2="34.4" y2="21.1" stroke="#ff2020" stroke-width="0.7"/><text x="37.2" y="23.1" font-size="5" fill="#ff2020" text-anchor="middle" font-family='"Liberation Sans", sans-serif'>O</text></g>
<rect x="337.5" y="210.5" width="43" height="44" stroke="#6e6e6e" stroke-width="1.2" fill="#fff" rx="0"/>
<g transform="translate(337.5,210.5)"><circle cx="4.5" cy="20.6" r="0.55" fill="#555"/><line x1="6.7" y1="19.3" x2="20.55" y2="19.3" stroke="#777" stroke-width="0.6"/><line x1="20.55" y1="19.3" x2="34.4" y2="19.3" stroke="#ff2020" stroke-width="0.6"/><line x1="6.7" y1="23.6" x2="20.55" y2="23.6" stroke="#777" stroke-width="0.6"/><line x1="20.55" y1="23.6" x2="34.4" y2="23.6" stroke="#ff2020" stroke-width="0.6"/><text x="37.2" y="23.4" font-size="5" fill="#ff2020" text-anchor="middle" font-family='"Liberation Sans", sans-serif'>O</text></g>
<rect x="383.5" y="30.5" width="43" height="43" stroke="#6e6e6e" stroke-width="1.2" fill="#fff" rx="0"/>
<g transform="translate(383.3,30.3)"><text x="20.8" y="9.8" font-size="5" fill="#ff2020" text-anchor="middle" font-family='"Liberation Sans", sans-serif'>O</text><line x1="19.4" y1="10.4" x2="19.4" y2="18.9" stroke="#ff2020" stroke-width="0.6"/><line x1="19.4" y1="18.9" x2="19.4" y2="27.4" stroke="#666" stroke-width="0.6"/><line x1="22.2" y1="10.4" x2="22.2" y2="18.9" stroke="#ff2020" stroke-width="0.6"/><line x1="22.2" y1="18.9" x2="22.2" y2="27.4" stroke="#666" stroke-width="0.6"/><line x1="20.8" y1="27.4" x2="4.1" y2="35.7" stroke="#555555" stroke-width="0.5"/><line x1="20.8" y1="27.4" x2="38" y2="35.7" stroke="#555555" stroke-width="0.5"/><circle cx="4.1" cy="35.7" r="0.55" fill="#555"/><circle cx="38" cy="35.7" r="0.55" fill="#555"/></g>
<rect x="383.5" y="74.5" width="43" height="44" stroke="#6e6e6e" stroke-width="1.2" fill="#fff" rx="0"/>
<g transform="translate(383.3,74.6)"><polyline points="19.7,19.4 11.9,22.1 10.2,28.2 16.6,35 24.4,32.8 26.3,25.5 19.7,19.4" fill="none" stroke="#555555" stroke-width="0.5"/><polyline points="19.7,19.4 23,12.7 30.7,13.3 33,19.9 26.3,25.5" fill="none" stroke="#555555" stroke-width="0.5"/><polygon points="11.9,22.1 6.43,16.33 5.17,17.87" fill="#222"/><line x1="5.8" y1="17.1" x2="7.5" y2="8.8" stroke="#555555" stroke-width="0.5"/><polygon points="19.7,19.4 14.84,12.62 13.36,13.98" fill="#222"/><polygon points="33,19.9 40.53,18.34 39.87,16.46" fill="#222"/><line x1="33" y1="19.9" x2="37.4" y2="27.7" stroke="#555555" stroke-width="0.5"/><line x1="26.3" y1="25.5" x2="31.3" y2="29.3" stroke="#555555" stroke-width="0.5"/><line x1="10.2" y1="28.2" x2="3" y2="32.7" stroke="#555555" stroke-width="0.5"/></g>
<rect x="383.5" y="120.5" width="43" height="43" stroke="#6e6e6e" stroke-width="1.2" fill="#fff" rx="0"/>
<g transform="translate(383.3,120.3)"><polyline points="3,13.6 12.5,19.7 21.9,14.7 31.3,19.7 40.2,13.6" fill="none" stroke="#777" stroke-width="0.5"/><line x1="12.5" y1="19.7" x2="12.5" y2="29.6" stroke="#777" stroke-width="0.5"/><line x1="31.3" y1="19.7" x2="31.3" y2="29.6" stroke="#777" stroke-width="0.5"/></g>
<rect x="383.5" y="167.5" width="43" height="44" stroke="#6e6e6e" stroke-width="1.2" fill="#fff" rx="0"/>
<g transform="translate(383.3,167.8)"><text x="21.6" y="20" font-size="5" fill="#ff2020" text-anchor="middle" font-family='"Liberation Sans", sans-serif'>O</text><line x1="4.1" y1="27.5" x2="11.6" y2="23.6" stroke="#555" stroke-width="0.6"/><line x1="11.6" y1="23.6" x2="19.1" y2="19.7" stroke="#ff2020" stroke-width="0.6"/><line x1="24.4" y1="19.7" x2="32" y2="23.6" stroke="#ff2020" stroke-width="0.6"/><line x1="32" y1="23.6" x2="39.6" y2="27.5" stroke="#555" stroke-width="0.6"/><circle cx="4.1" cy="27.5" r="0.55" fill="#555"/><circle cx="39.6" cy="27.5" r="0.55" fill="#555"/></g>
<rect x="383.5" y="219.5" width="43" height="44" stroke="#6e6e6e" stroke-width="1.2" fill="#fff" rx="0"/>
<g transform="translate(383.3,219.6)"><text x="21.6" y="9.2" font-size="5" fill="#ff2020" text-anchor="middle" font-family='"Liberation Sans", sans-serif'>O</text><line x1="21.9" y1="9.9" x2="21.9" y2="18.5" stroke="#ff2020" stroke-width="0.6"/><line x1="21.9" y1="18.5" x2="21.9" y2="27.1" stroke="#555" stroke-width="0.6"/><line x1="21.9" y1="27.1" x2="4.1" y2="37.1" stroke="#555555" stroke-width="0.5"/><line x1="21.9" y1="27.1" x2="39.6" y2="37.1" stroke="#555555" stroke-width="0.5"/><line x1="22.6" y1="29.2" x2="37.6" y2="37.9" stroke="#555555" stroke-width="0.5"/><circle cx="4.1" cy="37.1" r="0.55" fill="#555"/><circle cx="39.6" cy="37.1" r="0.55" fill="#555"/></g>
<rect x="577.5" y="23.5" width="43" height="43" stroke="#6e6e6e" stroke-width="1.2" fill="#fff" rx="0"/>
<g transform="translate(577.2,23)"><circle cx="4.2" cy="20.5" r="0.55" fill="#555"/><line x1="7" y1="22" x2="20.9" y2="22" stroke="#c8c8c8" stroke-width="1.2"/><line x1="20.9" y1="22" x2="35.3" y2="22" stroke="#a8e8e8" stroke-width="1.2"/><text x="38" y="23.67" font-size="5.2" fill="#30c0c0" text-anchor="middle" font-family='"Liberation Sans", sans-serif'>F</text></g>
<rect x="577.5" y="68.5" width="43" height="43" stroke="#6e6e6e" stroke-width="1.2" fill="#fff" rx="0"/>
<g transform="translate(577.2,68.8)"><text x="9.6" y="24.37" font-size="5.2" fill="#2040ff" text-anchor="middle" font-family='"Liberation Sans", sans-serif'>N</text><line x1="8.4" y1="20.4" x2="3.1" y2="10.3" stroke="#2040ff" stroke-width="0.5"/><line x1="10.4" y1="19.2" x2="5.3" y2="10.2" stroke="#8090ff" stroke-width="0.5" stroke-dasharray="1,1"/><line x1="8.4" y1="24.6" x2="3.1" y2="31.9" stroke="#2040ff" stroke-width="0.5"/><line x1="10.4" y1="25.6" x2="5.4" y2="32.4" stroke="#8090ff" stroke-width="0.5" stroke-dasharray="1,1"/><line x1="11.6" y1="22.5" x2="16.5" y2="22.5" stroke="#2040ff" stroke-width="0.6"/><line x1="16.5" y1="22.5" x2="21.4" y2="22.5" stroke="#555" stroke-width="0.6"/><polyline points="21.4,22.5 27.5,11.4 40.3,11.4" fill="none" stroke="#555555" stroke-width="0.5"/><polyline points="21.4,22.5 27.5,32.5 40.3,31.4" fill="none" stroke="#555555" stroke-width="0.5"/><line x1="28.5" y1="13.5" x2="38.5" y2="13.5" stroke="#666" stroke-width="0.5" stroke-dasharray="1.5,1"/><line x1="28.5" y1="30.3" x2="38.5" y2="29.4" stroke="#666" stroke-width="0.5" stroke-dasharray="1,0.6"/></g>
<rect x="577.5" y="114.5" width="43" height="43" stroke="#6e6e6e" stroke-width="1.2" fill="#fff" rx="0"/>
<g transform="translate(577.2,114.2)"><circle cx="2.9" cy="17" r="0.55" fill="#555"/><line x1="2.9" y1="17" x2="7.15" y2="21.7" stroke="#555" stroke-width="0.6"/><line x1="7.15" y1="21.7" x2="11.4" y2="26.4" stroke="#2040ff" stroke-width="0.6"/><text x="13.1" y="29.97" font-size="5.2" fill="#2040ff" text-anchor="middle" font-family='"Liberation Sans", sans-serif'>N</text><line x1="15" y1="27" x2="20.7" y2="25.3" stroke="#2040ff" stroke-width="0.6"/><line x1="20.7" y1="25.3" x2="26.4" y2="23.6" stroke="#555" stroke-width="0.6"/><polyline points="26.4,23.6 36.4,13.7 40.8,27 26.4,23.6" fill="none" stroke="#555555" stroke-width="0.5"/></g>
<rect x="577.5" y="160.5" width="43" height="42" stroke="#6e6e6e" stroke-width="1.2" fill="#fff" rx="0"/>
<g transform="translate(577.2,160.6)"><polyline points="2.6,13.3 12.5,19.4 22,14.4 30.8,19.4 40.3,13.3" fill="none" stroke="#555555" stroke-width="0.5"/><line x1="12.5" y1="19.4" x2="12.5" y2="29.9" stroke="#555555" stroke-width="0.5"/><line x1="13.8" y1="21" x2="13.8" y2="29.9" stroke="#666" stroke-width="0.5" stroke-dasharray="1,0.8"/><line x1="30.8" y1="19.4" x2="30.8" y2="29.9" stroke="#555555" stroke-width="0.5"/><line x1="32.1" y1="21" x2="32.1" y2="29.9" stroke="#666" stroke-width="0.5" stroke-dasharray="1,0.8"/><line x1="13.5" y1="17.4" x2="21.6" y2="13.2" stroke="#777" stroke-width="0.5" stroke-dasharray="1,1"/><line x1="22.4" y1="13.2" x2="30" y2="17.4" stroke="#777" stroke-width="0.5" stroke-dasharray="1,1"/></g>
<rect x="577.5" y="206.5" width="43" height="43" stroke="#6e6e6e" stroke-width="1.2" fill="#fff" rx="0"/>
<g transform="translate(577.2,206.4)"><text x="21.4" y="10.8" font-size="5" fill="#ff2020" text-anchor="middle" font-family='"Liberation Sans", sans-serif'>O</text><line x1="20.6" y1="11.4" x2="20.6" y2="15.75" stroke="#ff2020" stroke-width="0.6"/><line x1="20.6" y1="15.75" x2="20.6" y2="20.1" stroke="#555" stroke-width="0.6"/><line x1="22.2" y1="11.4" x2="22.2" y2="15.75" stroke="#ff2020" stroke-width="0.6"/><line x1="22.2" y1="15.75" x2="22.2" y2="20.1" stroke="#555" stroke-width="0.6"/><line x1="21.4" y1="20.1" x2="12.5" y2="25.7" stroke="#555555" stroke-width="0.5"/><polygon points="12.5,25.7 7.9,14.16 6.1,15.04" fill="#222"/><line x1="12.5" y1="25.7" x2="2.6" y2="29.5" stroke="#555555" stroke-width="0.5"/><line x1="12.5" y1="25.7" x2="17.5" y2="34" stroke="#555555" stroke-width="0.5"/><line x1="21.4" y1="20.1" x2="25.3" y2="22.45" stroke="#555" stroke-width="0.6"/><line x1="25.3" y1="22.45" x2="29.2" y2="24.8" stroke="#2040ff" stroke-width="0.6"/><text x="30.8" y="27.5" font-size="5" fill="#2040ff" text-anchor="middle" font-family='"Liberation Sans", sans-serif'>N</text><line x1="32.2" y1="24.6" x2="36.25" y2="22.1" stroke="#2040ff" stroke-width="0.6"/><line x1="36.25" y1="22.1" x2="40.3" y2="19.6" stroke="#555" stroke-width="0.6"/><line x1="30.8" y1="27.6" x2="30.8" y2="31.35" stroke="#2040ff" stroke-width="0.6"/><line x1="30.8" y1="31.35" x2="30.8" y2="35.1" stroke="#555" stroke-width="0.6"/></g>
<rect x="626.5" y="34.5" width="41.7" height="43" stroke="#6e6e6e" stroke-width="1.2" fill="#fff" rx="0"/>
<g transform="translate(626.2,34.4)"><polyline points="2.1,12.9 12.1,19" fill="none" stroke="#555555" stroke-width="0.5"/><line x1="12.1" y1="19" x2="15.85" y2="16.7" stroke="#555" stroke-width="0.6"/><line x1="15.85" y1="16.7" x2="19.6" y2="14.4" stroke="#2040ff" stroke-width="0.6"/><text x="21" y="15.3" font-size="5" fill="#2040ff" text-anchor="middle" font-family='"Liberation Sans", sans-serif'>N</text><line x1="22.4" y1="14.4" x2="26.4" y2="16.7" stroke="#2040ff" stroke-width="0.6"/><line x1="26.4" y1="16.7" x2="30.4" y2="19" stroke="#555" stroke-width="0.6"/><line x1="30.4" y1="19" x2="39.8" y2="12.9" stroke="#555555" stroke-width="0.5"/><line x1="31" y1="21" x2="39" y2="15.6" stroke="#666" stroke-width="0.5" stroke-dasharray="1,0.8"/><line x1="12.1" y1="19" x2="12.1" y2="29.5" stroke="#555555" stroke-width="0.5"/><line x1="13.4" y1="20.5" x2="13.4" y2="29" stroke="#666" stroke-width="0.5" stroke-dasharray="1,0.8"/><line x1="30.4" y1="19" x2="30.4" y2="29.5" stroke="#555555" stroke-width="0.5"/><line x1="13.5" y1="17.2" x2="19" y2="14.2" stroke="#8090ff" stroke-width="0.5" stroke-dasharray="1,0.8"/><line x1="23" y1="14.2" x2="29" y2="17.2" stroke="#8090ff" stroke-width="0.5" stroke-dasharray="1,0.8"/></g>
<rect x="626.5" y="81.5" width="41.7" height="44" stroke="#6e6e6e" stroke-width="1.2" fill="#fff" rx="0"/>
<g transform="translate(626.2,81.2)"><polyline points="2.7,15.9 8.8,26.4 2.7,37.5" fill="none" stroke="#555555" stroke-width="0.5"/><line x1="4.3" y1="16.5" x2="9.6" y2="25.6" stroke="#666" stroke-width="0.5" stroke-dasharray="1,0.8"/><line x1="4.3" y1="36.9" x2="9.6" y2="27.4" stroke="#666" stroke-width="0.5" stroke-dasharray="1,0.8"/><line x1="8.8" y1="26.4" x2="21" y2="26.4" stroke="#555555" stroke-width="0.5"/><line x1="9.8" y1="27.8" x2="20" y2="27.8" stroke="#666" stroke-width="0.5" stroke-dasharray="1,0.8"/><line x1="21" y1="26.4" x2="23.8" y2="22.55" stroke="#555" stroke-width="0.6"/><line x1="23.8" y1="22.55" x2="26.6" y2="18.7" stroke="#2040ff" stroke-width="0.6"/><text x="27.6" y="18.8" font-size="5" fill="#2040ff" text-anchor="middle" font-family='"Liberation Sans", sans-serif'>N</text><line x1="26.6" y1="15.3" x2="24.05" y2="10.05" stroke="#2040ff" stroke-width="0.6"/><line x1="24.05" y1="10.05" x2="21.5" y2="4.8" stroke="#555" stroke-width="0.6"/><line x1="24.6" y1="15.8" x2="20.4" y2="8" stroke="#8090ff" stroke-width="0.5" stroke-dasharray="1,0.8"/><line x1="29.2" y1="17" x2="34.5" y2="16.7" stroke="#2040ff" stroke-width="0.6"/><line x1="34.5" y1="16.7" x2="39.8" y2="16.4" stroke="#555" stroke-width="0.6"/><line x1="21" y1="26.4" x2="23.8" y2="31.35" stroke="#555" stroke-width="0.6"/><line x1="23.8" y1="31.35" x2="26.6" y2="36.3" stroke="#2040ff" stroke-width="0.6"/><text x="27.6" y="39.8" font-size="5" fill="#2040ff" text-anchor="middle" font-family='"Liberation Sans", sans-serif'>N</text><line x1="29.2" y1="38" x2="34.5" y2="37.75" stroke="#2040ff" stroke-width="0.6"/><line x1="34.5" y1="37.75" x2="39.8" y2="37.5" stroke="#555" stroke-width="0.6"/><line x1="29.6" y1="36.2" x2="38.8" y2="35.8" stroke="#8090ff" stroke-width="0.5" stroke-dasharray="1.4,0.8"/></g>
<rect x="626.5" y="130.5" width="41.7" height="43" stroke="#6e6e6e" stroke-width="1.2" fill="#fff" rx="0"/>
<g transform="translate(626.2,130.2)"><polyline points="2.7,15.9 11.5,10.9 21,15.9 30.4,10.9 39.8,15.9" fill="none" stroke="#777" stroke-width="0.5"/><line x1="4" y1="17.3" x2="11" y2="13.4" stroke="#999" stroke-width="0.5" stroke-dasharray="1,0.8"/><line x1="31" y1="13.4" x2="38.4" y2="17.3" stroke="#999" stroke-width="0.5" stroke-dasharray="1,0.8"/><line x1="12.4" y1="12.8" x2="19.6" y2="16.8" stroke="#999" stroke-width="0.5" stroke-dasharray="1,0.8"/><line x1="22.4" y1="16.8" x2="29.6" y2="12.8" stroke="#999" stroke-width="0.5" stroke-dasharray="1,0.8"/><line x1="21" y1="15.9" x2="21" y2="26.4" stroke="#777" stroke-width="0.5"/><line x1="21" y1="26.4" x2="11.5" y2="32" stroke="#777" stroke-width="0.5"/><line x1="21" y1="26.4" x2="30.4" y2="32" stroke="#777" stroke-width="0.5"/><line x1="21.6" y1="28.2" x2="29.4" y2="32.8" stroke="#777" stroke-width="0.5"/></g>
<rect x="626.5" y="177.5" width="41.7" height="43" stroke="#6e6e6e" stroke-width="1.2" fill="#fff" rx="0"/>
<g transform="translate(626.2,177.3)"><line x1="18.2" y1="24.1" x2="22.1" y2="16.3" stroke="#555555" stroke-width="0.5"/><line x1="22.1" y1="16.3" x2="25.35" y2="16.3" stroke="#555" stroke-width="0.6"/><line x1="25.35" y1="16.3" x2="28.6" y2="16.3" stroke="#ff2020" stroke-width="0.6"/><text x="30.4" y="18.03" font-size="4.8" fill="#ff2020" text-anchor="middle" font-family='"Liberation Sans", sans-serif'>O</text><line x1="31.2" y1="18.2" x2="31.9" y2="20.85" stroke="#ff2020" stroke-width="0.6"/><line x1="31.9" y1="20.85" x2="32.6" y2="23.5" stroke="#555" stroke-width="0.6"/><line x1="32.6" y1="23.5" x2="29.7" y2="25.95" stroke="#555" stroke-width="0.6"/><line x1="29.7" y1="25.95" x2="26.8" y2="28.4" stroke="#ff2020" stroke-width="0.6"/><text x="25.4" y="30.83" font-size="4.8" fill="#ff2020" text-anchor="middle" font-family='"Liberation Sans", sans-serif'>O</text><line x1="23.8" y1="28.2" x2="21" y2="26.15" stroke="#ff2020" stroke-width="0.6"/><line x1="21" y1="26.15" x2="18.2" y2="24.1" stroke="#555" stroke-width="0.6"/><line x1="22.1" y1="16.3" x2="21" y2="14.45" stroke="#555" stroke-width="0.6"/><line x1="21" y1="14.45" x2="19.9" y2="12.6" stroke="#ff2020" stroke-width="0.6"/><line x1="23.4" y1="15.6" x2="22.3" y2="13.75" stroke="#555" stroke-width="0.6"/><line x1="22.3" y1="13.75" x2="21.2" y2="11.9" stroke="#ff2020" stroke-width="0.6"/><text x="19.3" y="12.53" font-size="4.8" fill="#ff2020" text-anchor="middle" font-family='"Liberation Sans", sans-serif'>O</text><line x1="32.6" y1="23.5" x2="39.8" y2="25.8" stroke="#555555" stroke-width="0.5"/><polyline points="18.2,24.1 11.5,19.7 11.5,10.8 15.4,7.5" fill="none" stroke="#555555" stroke-width="0.5"/><line x1="11.5" y1="10.8" x2="3.8" y2="7.5" stroke="#555555" stroke-width="0.5"/><line x1="10.5" y1="12.3" x2="4.2" y2="9.5" stroke="#666" stroke-width="0.5" stroke-dasharray="1,0.7"/><polyline points="18.2,24.1 15.4,29.6 6.6,29.6 3.2,22.4" fill="none" stroke="#555555" stroke-width="0.5"/><line x1="6.6" y1="29.6" x2="2.7" y2="35.7" stroke="#555555" stroke-width="0.5"/><line x1="5.6" y1="28.3" x2="2.4" y2="33.6" stroke="#666" stroke-width="0.5" stroke-dasharray="1,0.7"/></g>
<rect x="626.5" y="226.5" width="41.7" height="43" stroke="#6e6e6e" stroke-width="1.2" fill="#fff" rx="0"/>
<g transform="translate(626.2,226.1)"><polyline points="8.2,10.4 19.3,15.4 21,26 13.2,33.2 2.1,29.3" fill="none" stroke="#555555" stroke-width="0.5"/><polygon points="21,26 31.17,30.35 31.83,28.25" fill="#222"/><line x1="31.5" y1="29.3" x2="39.8" y2="20.4" stroke="#555555" stroke-width="0.5"/></g>
<polyline points="544.5,220.5 558.5,220.5 558.5,194.5 626.5,194.5" stroke="#a2a2a2" stroke-width="1.15" fill="none" />
<circle cx="380.5" cy="27.5" r="1.3" fill="#9a9a9a"/>
<circle cx="465.5" cy="50.5" r="1.3" fill="#9a9a9a"/>
<circle cx="426.5" cy="61.5" r="1.3" fill="#9a9a9a"/>
<circle cx="467.5" cy="61.5" r="1.3" fill="#9a9a9a"/>
<circle cx="380.5" cy="86.5" r="1.3" fill="#9a9a9a"/>
<circle cx="438.5" cy="66.5" r="1.3" fill="#9a9a9a"/>
<circle cx="426.5" cy="100.5" r="1.3" fill="#9a9a9a"/>
<circle cx="459.5" cy="100.5" r="1.3" fill="#9a9a9a"/>
<circle cx="380.5" cy="119.5" r="1.3" fill="#9a9a9a"/>
<circle cx="459.5" cy="122.5" r="1.3" fill="#9a9a9a"/>
<circle cx="426.5" cy="125.5" r="1.3" fill="#9a9a9a"/>
<circle cx="442.5" cy="125.5" r="1.3" fill="#9a9a9a"/>
<circle cx="380.5" cy="176.5" r="1.3" fill="#9a9a9a"/>
<circle cx="455.5" cy="176.5" r="1.3" fill="#9a9a9a"/>
<circle cx="426.5" cy="187.5" r="1.3" fill="#9a9a9a"/>
<circle cx="456.5" cy="187.5" r="1.3" fill="#9a9a9a"/>
<circle cx="380.5" cy="212.5" r="1.3" fill="#9a9a9a"/>
<circle cx="451.5" cy="193.5" r="1.3" fill="#9a9a9a"/>
<circle cx="426.5" cy="240.5" r="1.3" fill="#9a9a9a"/>
<circle cx="451.5" cy="221.5" r="1.3" fill="#9a9a9a"/>
<circle cx="574.5" cy="60.5" r="1.3" fill="#9a9a9a"/>
<circle cx="577.5" cy="60.5" r="1.3" fill="#9a9a9a"/>
<circle cx="562.5" cy="68.5" r="1.3" fill="#9a9a9a"/>
<circle cx="626.5" cy="68.5" r="1.3" fill="#9a9a9a"/>
<circle cx="543.5" cy="71.5" r="1.3" fill="#9a9a9a"/>
<circle cx="577.5" cy="71.5" r="1.3" fill="#9a9a9a"/>
<circle cx="540.5" cy="84.5" r="1.3" fill="#9a9a9a"/>
<circle cx="626.5" cy="84.5" r="1.3" fill="#9a9a9a"/>
<circle cx="543.5" cy="90.5" r="1.3" fill="#9a9a9a"/>
<circle cx="577.5" cy="121.5" r="1.3" fill="#9a9a9a"/>
<circle cx="543.5" cy="116.5" r="1.3" fill="#9a9a9a"/>
<circle cx="626.5" cy="137.5" r="1.3" fill="#9a9a9a"/>
<circle cx="565.5" cy="168.5" r="1.3" fill="#9a9a9a"/>
<circle cx="577.5" cy="168.5" r="1.3" fill="#9a9a9a"/>
<circle cx="544.5" cy="220.5" r="1.3" fill="#9a9a9a"/>
<circle cx="626.5" cy="194.5" r="1.3" fill="#9a9a9a"/>
<circle cx="551.5" cy="232.5" r="1.3" fill="#9a9a9a"/>
<circle cx="577.5" cy="232.5" r="1.3" fill="#9a9a9a"/>
<circle cx="548.5" cy="255.5" r="1.3" fill="#9a9a9a"/>
<circle cx="626.5" cy="255.5" r="1.3" fill="#9a9a9a"/>
<line x1="163.1" y1="319.3" x2="333" y2="319.3" stroke="#444" stroke-width="0.9" />
<line x1="163.1" y1="340.1" x2="333" y2="340.1" stroke="#444" stroke-width="0.9" />
<line x1="163.1" y1="375.3" x2="333" y2="375.3" stroke="#444" stroke-width="0.9" />
<line x1="163.1" y1="396.3" x2="333" y2="396.3" stroke="#444" stroke-width="0.9" />
<text x="190.8" y="332.9" font-size="8.6" fill="#2a2a2a" textLength="24.7" lengthAdjust="spacingAndGlyphs" font-family='"Liberation Sans", sans-serif'>Status</text>
<text x="265.3" y="332.9" font-size="8.6" fill="#2a2a2a" textLength="45.2" lengthAdjust="spacingAndGlyphs" font-family='"Liberation Sans", sans-serif'>Terminated</text>
<text x="176" y="355.7" font-size="8.6" fill="#2a2a2a" textLength="54.9" lengthAdjust="spacingAndGlyphs" font-family='"Liberation Sans", sans-serif'>Clinical Study</text>
<text x="192.7" y="366.6" font-size="8.6" fill="#2a2a2a" textLength="21.6" lengthAdjust="spacingAndGlyphs" font-family='"Liberation Sans", sans-serif'>result</text>
<text x="256.7" y="355.7" font-size="8.6" fill="#2a2a2a" textLength="62.4" lengthAdjust="spacingAndGlyphs" font-family='"Liberation Sans", sans-serif'>Lack of efficacy</text>
<text x="256.7" y="366.9" font-size="8.6" fill="#2a2a2a" textLength="62.4" lengthAdjust="spacingAndGlyphs" font-family='"Liberation Sans", sans-serif'>(NCT01215227)</text>
<text x="184.6" y="389.9" font-size="8.6" fill="#2a2a2a" textLength="37.1" lengthAdjust="spacingAndGlyphs" font-family='"Liberation Sans", sans-serif'>StS score</text>
<text x="278.2" y="389.9" font-size="8.6" fill="#2a2a2a" textLength="18.8" lengthAdjust="spacingAndGlyphs" font-family='"Liberation Sans", sans-serif'>-0.27</text>
<line x1="456.5" y1="319.3" x2="626.1" y2="319.3" stroke="#444" stroke-width="0.9" />
<line x1="456.5" y1="340.1" x2="626.1" y2="340.1" stroke="#444" stroke-width="0.9" />
<line x1="456.5" y1="375.3" x2="626.1" y2="375.3" stroke="#444" stroke-width="0.9" />
<line x1="456.5" y1="396.3" x2="626.1" y2="396.3" stroke="#444" stroke-width="0.9" />
<text x="484.4" y="332.9" font-size="8.6" fill="#2a2a2a" textLength="25.2" lengthAdjust="spacingAndGlyphs" font-family='"Liberation Sans", sans-serif'>Status</text>
<text x="559" y="332.9" font-size="8.6" fill="#2a2a2a" textLength="44.8" lengthAdjust="spacingAndGlyphs" font-family='"Liberation Sans", sans-serif'>Terminated</text>
<text x="469.6" y="355.7" font-size="8.6" fill="#2a2a2a" textLength="54" lengthAdjust="spacingAndGlyphs" font-family='"Liberation Sans", sans-serif'>Clinical Study</text>
<text x="485.8" y="366.6" font-size="8.6" fill="#2a2a2a" textLength="22" lengthAdjust="spacingAndGlyphs" font-family='"Liberation Sans", sans-serif'>result</text>
<text x="550.8" y="355.7" font-size="8.6" fill="#2a2a2a" textLength="61.2" lengthAdjust="spacingAndGlyphs" font-family='"Liberation Sans", sans-serif'>Adverse events</text>
<text x="549.8" y="366.9" font-size="8.6" fill="#2a2a2a" textLength="62.2" lengthAdjust="spacingAndGlyphs" font-family='"Liberation Sans", sans-serif'>(NCT01888965)</text>
<text x="477.8" y="389.9" font-size="8.6" fill="#2a2a2a" textLength="37.7" lengthAdjust="spacingAndGlyphs" font-family='"Liberation Sans", sans-serif'>StS score</text>
<text x="571.1" y="389.9" font-size="8.6" fill="#2a2a2a" textLength="20.3" lengthAdjust="spacingAndGlyphs" font-family='"Liberation Sans", sans-serif'>-0.25</text>
<text x="82.6" y="392.8" font-size="8.8" text-anchor="middle" font-weight="normal" font-style="normal" fill="#111" font-family='"Liberation Sans", sans-serif' >PRELADENANT</text>
<text x="392.5" y="393.5" font-size="8.8" text-anchor="middle" font-weight="normal" font-style="normal" fill="#111" font-family='"Liberation Sans", sans-serif' >DOVITINIB</text>
<line x1="31.7" y1="351.2" x2="33.7" y2="353.3" stroke="#ff2a2a" stroke-width="0.85" stroke-linecap="round"/>
<line x1="33.7" y1="353.3" x2="35.7" y2="355.4" stroke="#222" stroke-width="0.85" stroke-linecap="round"/>
<line x1="35.7" y1="355.4" x2="33.1" y2="362.4" stroke="#222" stroke-width="0.85" stroke-linecap="round"/>
<line x1="33.1" y1="362.4" x2="26.3" y2="360.6" stroke="#222" stroke-width="0.85" stroke-linecap="round"/>
<line x1="26.3" y1="360.6" x2="25.2" y2="353.8" stroke="#222" stroke-width="0.85" stroke-linecap="round"/>
<line x1="25.2" y1="353.8" x2="28.45" y2="352.5" stroke="#222" stroke-width="0.85" stroke-linecap="round"/>
<line x1="28.45" y1="352.5" x2="31.7" y2="351.2" stroke="#ff2a2a" stroke-width="0.85" stroke-linecap="round"/>
<line x1="34.2" y1="356.28" x2="32.54" y2="360.76" stroke="#222" stroke-width="0.85" stroke-linecap="round"/>
<line x1="27.19" y1="359.2" x2="26.48" y2="354.85" stroke="#222" stroke-width="0.85" stroke-linecap="round"/>
<line x1="35.7" y1="355.4" x2="43.9" y2="356.5" stroke="#222" stroke-width="0.85" stroke-linecap="round"/>
<line x1="43.9" y1="356.5" x2="45.3" y2="353.35" stroke="#222" stroke-width="0.85" stroke-linecap="round"/>
<line x1="45.3" y1="353.35" x2="46.7" y2="350.2" stroke="#2a40ff" stroke-width="0.85" stroke-linecap="round"/>
<line x1="46.7" y1="350.2" x2="50.1" y2="351.25" stroke="#2a40ff" stroke-width="0.85" stroke-linecap="round"/>
<line x1="50.1" y1="351.25" x2="53.5" y2="352.3" stroke="#2a40ff" stroke-width="0.85" stroke-linecap="round"/>
<line x1="53.5" y1="352.3" x2="53.4" y2="355.4" stroke="#2a40ff" stroke-width="0.85" stroke-linecap="round"/>
<line x1="53.4" y1="355.4" x2="53.3" y2="358.5" stroke="#222" stroke-width="0.85" stroke-linecap="round"/>
<line x1="53.3" y1="358.5" x2="50.65" y2="359.55" stroke="#222" stroke-width="0.85" stroke-linecap="round"/>
<line x1="50.65" y1="359.55" x2="48" y2="360.6" stroke="#2a40ff" stroke-width="0.85" stroke-linecap="round"/>
<line x1="48" y1="360.6" x2="45.95" y2="358.55" stroke="#2a40ff" stroke-width="0.85" stroke-linecap="round"/>
<line x1="45.95" y1="358.55" x2="43.9" y2="356.5" stroke="#222" stroke-width="0.85" stroke-linecap="round"/>
<line x1="45.41" y1="355.81" x2="47.2" y2="351.78" stroke="#2a40ff" stroke-width="0.85" stroke-linecap="round"/>
<line x1="51.94" y1="357.86" x2="48.55" y2="359.2" stroke="#2a40ff" stroke-width="0.85" stroke-linecap="round"/>
<line x1="53.5" y1="352.3" x2="56.65" y2="350.45" stroke="#2a40ff" stroke-width="0.85" stroke-linecap="round"/>
<line x1="56.65" y1="350.45" x2="59.8" y2="348.6" stroke="#222" stroke-width="0.85" stroke-linecap="round"/>
<line x1="59.8" y1="348.6" x2="62.65" y2="350.45" stroke="#222" stroke-width="0.85" stroke-linecap="round"/>
<line x1="62.65" y1="350.45" x2="65.5" y2="352.3" stroke="#2a40ff" stroke-width="0.85" stroke-linecap="round"/>
<line x1="65.5" y1="352.3" x2="66.55" y2="355.7" stroke="#2a40ff" stroke-width="0.85" stroke-linecap="round"/>
<line x1="66.55" y1="355.7" x2="67.6" y2="359.1" stroke="#222" stroke-width="0.85" stroke-linecap="round"/>
<line x1="67.6" y1="359.1" x2="61.9" y2="362.7" stroke="#222" stroke-width="0.85" stroke-linecap="round"/>
<line x1="61.9" y1="362.7" x2="53.3" y2="358.5" stroke="#222" stroke-width="0.85" stroke-linecap="round"/>
<line x1="53.3" y1="358.5" x2="53.5" y2="352.3" stroke="#222" stroke-width="0.85" stroke-linecap="round"/>
<line x1="60.23" y1="350.19" x2="63.88" y2="352.56" stroke="#222" stroke-width="0.85" stroke-linecap="round"/>
<line x1="60.83" y1="360.96" x2="55.33" y2="358.27" stroke="#222" stroke-width="0.85" stroke-linecap="round"/>
<line x1="59.8" y1="348.6" x2="60.05" y2="346" stroke="#222" stroke-width="0.85" stroke-linecap="round"/>
<line x1="60.05" y1="346" x2="60.3" y2="343.4" stroke="#2a40ff" stroke-width="0.85" stroke-linecap="round"/>
<text x="60.6" y="342.6" font-size="3.6" fill="#2a40ff" text-anchor="middle" font-family='"Liberation Sans", sans-serif'>NH&#8322;</text>
<line x1="67.6" y1="359.1" x2="69.95" y2="360.65" stroke="#222" stroke-width="0.85" stroke-linecap="round"/>
<line x1="69.95" y1="360.65" x2="72.3" y2="362.2" stroke="#2a40ff" stroke-width="0.85" stroke-linecap="round"/>
<line x1="72.3" y1="362.2" x2="70.75" y2="365.35" stroke="#2a40ff" stroke-width="0.85" stroke-linecap="round"/>
<line x1="70.75" y1="365.35" x2="69.2" y2="368.5" stroke="#2a40ff" stroke-width="0.85" stroke-linecap="round"/>
<line x1="69.2" y1="368.5" x2="66.05" y2="368.5" stroke="#2a40ff" stroke-width="0.85" stroke-linecap="round"/>
<line x1="66.05" y1="368.5" x2="62.9" y2="368.5" stroke="#222" stroke-width="0.85" stroke-linecap="round"/>
<line x1="62.9" y1="368.5" x2="61.9" y2="362.7" stroke="#222" stroke-width="0.85" stroke-linecap="round"/>
<line x1="61.9" y1="362.7" x2="67.6" y2="359.1" stroke="#222" stroke-width="0.85" stroke-linecap="round"/>
<line x1="68.07" y1="367.4" x2="64.03" y2="367.4" stroke="#2a40ff" stroke-width="0.85" stroke-linecap="round"/>
<line x1="67.16" y1="360.68" x2="63.51" y2="362.98" stroke="#222" stroke-width="0.85" stroke-linecap="round"/>
<line x1="72.3" y1="362.2" x2="75.45" y2="361.15" stroke="#2a40ff" stroke-width="0.85" stroke-linecap="round"/>
<line x1="75.45" y1="361.15" x2="78.6" y2="360.1" stroke="#222" stroke-width="0.85" stroke-linecap="round"/>
<line x1="78.6" y1="360.1" x2="84.9" y2="364.8" stroke="#222" stroke-width="0.85" stroke-linecap="round"/>
<line x1="84.9" y1="364.8" x2="87.75" y2="363.9" stroke="#222" stroke-width="0.85" stroke-linecap="round"/>
<line x1="87.75" y1="363.9" x2="90.6" y2="363" stroke="#2a40ff" stroke-width="0.85" stroke-linecap="round"/>
<line x1="90.6" y1="363" x2="91.45" y2="359.65" stroke="#2a40ff" stroke-width="0.85" stroke-linecap="round"/>
<line x1="91.45" y1="359.65" x2="92.3" y2="356.3" stroke="#222" stroke-width="0.85" stroke-linecap="round"/>
<line x1="92.3" y1="356.3" x2="99" y2="354.6" stroke="#222" stroke-width="0.85" stroke-linecap="round"/>
<line x1="99" y1="354.6" x2="101.55" y2="356.55" stroke="#222" stroke-width="0.85" stroke-linecap="round"/>
<line x1="101.55" y1="356.55" x2="104.1" y2="358.5" stroke="#2a40ff" stroke-width="0.85" stroke-linecap="round"/>
<line x1="104.1" y1="358.5" x2="103.25" y2="362.15" stroke="#2a40ff" stroke-width="0.85" stroke-linecap="round"/>
<line x1="103.25" y1="362.15" x2="102.4" y2="365.8" stroke="#222" stroke-width="0.85" stroke-linecap="round"/>
<line x1="102.4" y1="365.8" x2="95.7" y2="368.1" stroke="#222" stroke-width="0.85" stroke-linecap="round"/>
<line x1="95.7" y1="368.1" x2="93.15" y2="365.55" stroke="#222" stroke-width="0.85" stroke-linecap="round"/>
<line x1="93.15" y1="365.55" x2="90.6" y2="363" stroke="#2a40ff" stroke-width="0.85" stroke-linecap="round"/>
<line x1="104.1" y1="358.5" x2="107.45" y2="357.7" stroke="#2a40ff" stroke-width="0.85" stroke-linecap="round"/>
<line x1="107.45" y1="357.7" x2="110.8" y2="356.9" stroke="#222" stroke-width="0.85" stroke-linecap="round"/>
<line x1="110.8" y1="356.9" x2="113" y2="350.1" stroke="#222" stroke-width="0.85" stroke-linecap="round"/>
<line x1="113" y1="350.1" x2="119.8" y2="348.5" stroke="#222" stroke-width="0.85" stroke-linecap="round"/>
<line x1="119.8" y1="348.5" x2="124.2" y2="352.9" stroke="#222" stroke-width="0.85" stroke-linecap="round"/>
<line x1="124.2" y1="352.9" x2="122.6" y2="360.2" stroke="#222" stroke-width="0.85" stroke-linecap="round"/>
<line x1="122.6" y1="360.2" x2="115.8" y2="361.9" stroke="#222" stroke-width="0.85" stroke-linecap="round"/>
<line x1="115.8" y1="361.9" x2="110.8" y2="356.9" stroke="#222" stroke-width="0.85" stroke-linecap="round"/>
<line x1="114.48" y1="350.88" x2="118.83" y2="349.86" stroke="#222" stroke-width="0.85" stroke-linecap="round"/>
<line x1="122.84" y1="353.98" x2="121.81" y2="358.65" stroke="#222" stroke-width="0.85" stroke-linecap="round"/>
<line x1="115.68" y1="360.22" x2="112.48" y2="357.02" stroke="#222" stroke-width="0.85" stroke-linecap="round"/>
<line x1="124.2" y1="352.9" x2="127.3" y2="352.25" stroke="#222" stroke-width="0.85" stroke-linecap="round"/>
<line x1="127.3" y1="352.25" x2="130.4" y2="351.6" stroke="#ff2a2a" stroke-width="0.85" stroke-linecap="round"/>
<line x1="130.4" y1="351.6" x2="133.5" y2="353.95" stroke="#ff2a2a" stroke-width="0.85" stroke-linecap="round"/>
<line x1="133.5" y1="353.95" x2="136.6" y2="356.3" stroke="#222" stroke-width="0.85" stroke-linecap="round"/>
<line x1="136.6" y1="356.3" x2="142.7" y2="354.6" stroke="#222" stroke-width="0.85" stroke-linecap="round"/>
<line x1="142.7" y1="354.6" x2="145.25" y2="356.85" stroke="#222" stroke-width="0.85" stroke-linecap="round"/>
<line x1="145.25" y1="356.85" x2="147.8" y2="359.1" stroke="#ff2a2a" stroke-width="0.85" stroke-linecap="round"/>
<line x1="147.8" y1="359.1" x2="151.15" y2="358" stroke="#ff2a2a" stroke-width="0.85" stroke-linecap="round"/>
<line x1="151.15" y1="358" x2="154.5" y2="356.9" stroke="#222" stroke-width="0.85" stroke-linecap="round"/>
<line x1="342.8" y1="354.3" x2="346.8" y2="355.4" stroke="#222" stroke-width="0.85" stroke-linecap="round"/>
<line x1="346.8" y1="355.4" x2="350.8" y2="356.5" stroke="#2a40ff" stroke-width="0.85" stroke-linecap="round"/>
<line x1="350.8" y1="356.5" x2="353.9" y2="353.4" stroke="#2a40ff" stroke-width="0.85" stroke-linecap="round"/>
<line x1="353.9" y1="353.4" x2="357" y2="350.3" stroke="#222" stroke-width="0.85" stroke-linecap="round"/>
<line x1="357" y1="350.3" x2="366.1" y2="353.1" stroke="#222" stroke-width="0.85" stroke-linecap="round"/>
<line x1="366.1" y1="353.1" x2="366.95" y2="357.4" stroke="#222" stroke-width="0.85" stroke-linecap="round"/>
<line x1="366.95" y1="357.4" x2="367.8" y2="361.7" stroke="#2a40ff" stroke-width="0.85" stroke-linecap="round"/>
<line x1="367.8" y1="361.7" x2="364.95" y2="364.5" stroke="#2a40ff" stroke-width="0.85" stroke-linecap="round"/>
<line x1="364.95" y1="364.5" x2="362.1" y2="367.3" stroke="#222" stroke-width="0.85" stroke-linecap="round"/>
<line x1="362.1" y1="367.3" x2="353" y2="365" stroke="#222" stroke-width="0.85" stroke-linecap="round"/>
<line x1="353" y1="365" x2="351.9" y2="360.75" stroke="#222" stroke-width="0.85" stroke-linecap="round"/>
<line x1="351.9" y1="360.75" x2="350.8" y2="356.5" stroke="#2a40ff" stroke-width="0.85" stroke-linecap="round"/>
<line x1="367.8" y1="361.7" x2="372.35" y2="362.25" stroke="#2a40ff" stroke-width="0.85" stroke-linecap="round"/>
<line x1="372.35" y1="362.25" x2="376.9" y2="362.8" stroke="#222" stroke-width="0.85" stroke-linecap="round"/>
<line x1="376.9" y1="362.8" x2="382" y2="357.1" stroke="#222" stroke-width="0.85" stroke-linecap="round"/>
<line x1="382" y1="357.1" x2="391.7" y2="358.8" stroke="#222" stroke-width="0.85" stroke-linecap="round"/>
<line x1="391.7" y1="358.8" x2="393.4" y2="367.9" stroke="#222" stroke-width="0.85" stroke-linecap="round"/>
<line x1="393.4" y1="367.9" x2="387.6" y2="373.6" stroke="#222" stroke-width="0.85" stroke-linecap="round"/>
<line x1="387.6" y1="373.6" x2="379.1" y2="370.7" stroke="#222" stroke-width="0.85" stroke-linecap="round"/>
<line x1="379.1" y1="370.7" x2="376.9" y2="362.8" stroke="#222" stroke-width="0.85" stroke-linecap="round"/>
<line x1="383.56" y1="358.49" x2="389.76" y2="359.58" stroke="#222" stroke-width="1" stroke-linecap="round"/>
<line x1="391.58" y1="368.14" x2="387.87" y2="371.79" stroke="#222" stroke-width="1" stroke-linecap="round"/>
<line x1="379.76" y1="368.98" x2="378.36" y2="363.93" stroke="#222" stroke-width="1" stroke-linecap="round"/>
<line x1="391.7" y1="358.8" x2="394.8" y2="356.8" stroke="#222" stroke-width="0.85" stroke-linecap="round"/>
<line x1="394.8" y1="356.8" x2="397.9" y2="354.8" stroke="#2a40ff" stroke-width="0.85" stroke-linecap="round"/>
<line x1="397.9" y1="354.8" x2="401.3" y2="357.1" stroke="#2a40ff" stroke-width="0.85" stroke-linecap="round"/>
<line x1="401.3" y1="357.1" x2="404.7" y2="359.4" stroke="#222" stroke-width="0.85" stroke-linecap="round"/>
<line x1="404.7" y1="359.4" x2="403.6" y2="363.35" stroke="#222" stroke-width="0.85" stroke-linecap="round"/>
<line x1="403.6" y1="363.35" x2="402.5" y2="367.3" stroke="#2a40ff" stroke-width="0.85" stroke-linecap="round"/>
<line x1="402.5" y1="367.3" x2="397.95" y2="367.6" stroke="#2a40ff" stroke-width="0.85" stroke-linecap="round"/>
<line x1="397.95" y1="367.6" x2="393.4" y2="367.9" stroke="#222" stroke-width="0.85" stroke-linecap="round"/>
<line x1="403.24" y1="360.53" x2="401.84" y2="365.58" stroke="#2a40ff" stroke-width="1" stroke-linecap="round"/>
<text x="398.2" y="352.6" font-size="3.6" fill="#2a40ff" text-anchor="middle" font-family='"Liberation Sans", sans-serif'>H</text>
<line x1="404.7" y1="359.4" x2="414.4" y2="357.1" stroke="#222" stroke-width="0.85" stroke-linecap="round"/>
<line x1="414.4" y1="357.1" x2="416.7" y2="348.6" stroke="#222" stroke-width="0.85" stroke-linecap="round"/>
<line x1="416.7" y1="348.6" x2="420.65" y2="347.2" stroke="#222" stroke-width="0.85" stroke-linecap="round"/>
<line x1="420.65" y1="347.2" x2="424.6" y2="345.8" stroke="#2a40ff" stroke-width="0.85" stroke-linecap="round"/>
<line x1="424.6" y1="345.8" x2="427.15" y2="348.35" stroke="#2a40ff" stroke-width="0.85" stroke-linecap="round"/>
<line x1="427.15" y1="348.35" x2="429.7" y2="350.9" stroke="#222" stroke-width="0.85" stroke-linecap="round"/>
<line x1="429.7" y1="350.9" x2="428" y2="361.1" stroke="#222" stroke-width="0.85" stroke-linecap="round"/>
<line x1="428" y1="361.1" x2="420.1" y2="363.4" stroke="#222" stroke-width="0.85" stroke-linecap="round"/>
<line x1="420.1" y1="363.4" x2="414.4" y2="357.1" stroke="#222" stroke-width="0.85" stroke-linecap="round"/>
<line x1="419.89" y1="361.53" x2="416.24" y2="357.5" stroke="#222" stroke-width="1" stroke-linecap="round"/>
<line x1="416.7" y1="348.6" x2="413.25" y2="345.75" stroke="#222" stroke-width="0.85" stroke-linecap="round"/>
<line x1="413.25" y1="345.75" x2="409.8" y2="342.9" stroke="#ff2a2a" stroke-width="0.85" stroke-linecap="round"/>
<line x1="416.99" y1="347.54" x2="410.78" y2="342.41" stroke="#ff2a2a" stroke-width="0.85" stroke-linecap="round"/>
<text x="425" y="343.6" font-size="3.6" fill="#2a40ff" text-anchor="middle" font-family='"Liberation Sans", sans-serif'>H</text>
<line x1="420.1" y1="363.4" x2="420.1" y2="366.8" stroke="#222" stroke-width="0.85" stroke-linecap="round"/>
<line x1="420.1" y1="366.8" x2="420.1" y2="370.2" stroke="#2a40ff" stroke-width="0.85" stroke-linecap="round"/>
<text x="420.4" y="373.6" font-size="3.6" fill="#2a40ff" text-anchor="middle" font-family='"Liberation Sans", sans-serif'>NH&#8322;</text>
<line x1="429.7" y1="350.9" x2="438.8" y2="350.3" stroke="#222" stroke-width="0.85" stroke-linecap="round"/>
<line x1="438.8" y1="350.3" x2="445.6" y2="356" stroke="#222" stroke-width="0.85" stroke-linecap="round"/>
<line x1="445.6" y1="356" x2="442.7" y2="365.1" stroke="#222" stroke-width="0.85" stroke-linecap="round"/>
<line x1="442.7" y1="365.1" x2="434.8" y2="367.3" stroke="#222" stroke-width="0.85" stroke-linecap="round"/>
<line x1="434.8" y1="367.3" x2="428" y2="361.1" stroke="#222" stroke-width="0.85" stroke-linecap="round"/>
<line x1="428" y1="361.1" x2="429.7" y2="350.9" stroke="#222" stroke-width="0.85" stroke-linecap="round"/>
<line x1="431.41" y1="351.89" x2="437.23" y2="351.51" stroke="#222" stroke-width="1" stroke-linecap="round"/>
<line x1="444.03" y1="357.3" x2="442.17" y2="363.13" stroke="#222" stroke-width="1" stroke-linecap="round"/>
<line x1="434.32" y1="365.37" x2="429.97" y2="361.4" stroke="#222" stroke-width="1" stroke-linecap="round"/>
<line x1="434.8" y1="367.3" x2="433.95" y2="371.3" stroke="#222" stroke-width="0.85" stroke-linecap="round"/>
<line x1="433.95" y1="371.3" x2="433.1" y2="375.3" stroke="#30c8c8" stroke-width="0.85" stroke-linecap="round"/>
</svg>
</body></html>
